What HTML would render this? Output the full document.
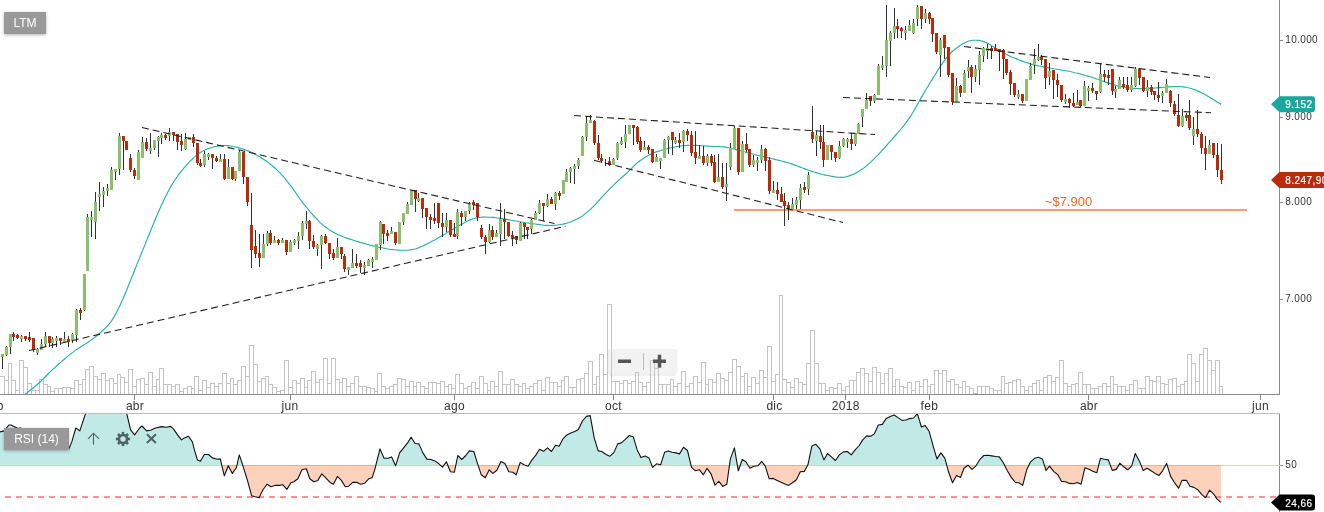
<!DOCTYPE html><html><head><meta charset="utf-8"><title>LTM</title><style>
html,body{margin:0;padding:0;background:#fff;}
body{width:1324px;height:512px;overflow:hidden;position:relative;font-family:"Liberation Sans",sans-serif;}
svg{position:absolute;left:0;top:0;will-change:transform;}
.lbl{position:absolute;background:#999;color:#fff;font-size:12px;text-align:center;box-shadow:0 1px 3px rgba(0,0,0,.3);}
text{font-family:"Liberation Sans",sans-serif;}
</style></head><body>
<svg width="1324" height="512" viewBox="0 0 1324 512">
<defs><clipPath id="cm"><rect x="0" y="0" width="1279" height="394"/></clipPath><clipPath id="cr"><rect x="0" y="414" width="1279" height="98"/></clipPath></defs>
<g fill="#fff" stroke="#c3c3c3" stroke-width="1" shape-rendering="crispEdges">
<rect x="-0.5" y="376.5" width="5" height="18"/>
<rect x="4.5" y="380.5" width="4" height="14"/>
<rect x="8.5" y="363.5" width="3" height="31"/>
<rect x="11.5" y="380.5" width="4" height="14"/>
<rect x="15.5" y="390.5" width="4" height="4"/>
<rect x="19.5" y="360.5" width="4" height="34"/>
<rect x="23.5" y="367.5" width="4" height="27"/>
<rect x="27.5" y="383.5" width="4" height="11"/>
<rect x="31.5" y="390.5" width="4" height="4"/>
<rect x="35.5" y="390.5" width="4" height="4"/>
<rect x="39.5" y="379.5" width="4" height="15"/>
<rect x="43.5" y="384.5" width="4" height="10"/>
<rect x="47.5" y="386.5" width="3" height="8"/>
<rect x="50.5" y="391.5" width="4" height="3"/>
<rect x="54.5" y="388.5" width="4" height="6"/>
<rect x="58.5" y="388.5" width="4" height="6"/>
<rect x="62.5" y="387.5" width="4" height="7"/>
<rect x="66.5" y="387.5" width="4" height="7"/>
<rect x="70.5" y="388.5" width="4" height="6"/>
<rect x="74.5" y="380.5" width="4" height="14"/>
<rect x="78.5" y="384.5" width="4" height="10"/>
<rect x="82.5" y="379.5" width="3" height="15"/>
<rect x="85.5" y="369.5" width="4" height="25"/>
<rect x="89.5" y="366.5" width="4" height="28"/>
<rect x="93.5" y="376.5" width="4" height="18"/>
<rect x="97.5" y="379.5" width="4" height="15"/>
<rect x="101.5" y="373.5" width="4" height="21"/>
<rect x="105.5" y="380.5" width="4" height="14"/>
<rect x="109.5" y="378.5" width="4" height="16"/>
<rect x="113.5" y="383.5" width="4" height="11"/>
<rect x="117.5" y="374.5" width="3" height="20"/>
<rect x="120.5" y="377.5" width="4" height="17"/>
<rect x="124.5" y="382.5" width="4" height="12"/>
<rect x="128.5" y="369.5" width="4" height="25"/>
<rect x="132.5" y="386.5" width="4" height="8"/>
<rect x="136.5" y="379.5" width="4" height="15"/>
<rect x="140.5" y="378.5" width="4" height="16"/>
<rect x="144.5" y="384.5" width="4" height="10"/>
<rect x="148.5" y="372.5" width="4" height="22"/>
<rect x="152.5" y="386.5" width="4" height="8"/>
<rect x="156.5" y="379.5" width="3" height="15"/>
<rect x="159.5" y="368.5" width="4" height="26"/>
<rect x="163.5" y="384.5" width="4" height="10"/>
<rect x="167.5" y="384.5" width="4" height="10"/>
<rect x="171.5" y="386.5" width="4" height="8"/>
<rect x="175.5" y="384.5" width="4" height="10"/>
<rect x="179.5" y="391.5" width="4" height="3"/>
<rect x="183.5" y="388.5" width="4" height="6"/>
<rect x="187.5" y="386.5" width="4" height="8"/>
<rect x="191.5" y="388.5" width="3" height="6"/>
<rect x="194.5" y="376.5" width="4" height="18"/>
<rect x="198.5" y="390.5" width="4" height="4"/>
<rect x="202.5" y="380.5" width="4" height="14"/>
<rect x="206.5" y="387.5" width="4" height="7"/>
<rect x="210.5" y="383.5" width="4" height="11"/>
<rect x="214.5" y="386.5" width="4" height="8"/>
<rect x="218.5" y="383.5" width="4" height="11"/>
<rect x="222.5" y="373.5" width="4" height="21"/>
<rect x="226.5" y="383.5" width="4" height="11"/>
<rect x="230.5" y="378.5" width="3" height="16"/>
<rect x="233.5" y="384.5" width="4" height="10"/>
<rect x="237.5" y="380.5" width="4" height="14"/>
<rect x="241.5" y="366.5" width="4" height="28"/>
<rect x="245.5" y="376.5" width="4" height="18"/>
<rect x="249.5" y="345.5" width="4" height="49"/>
<rect x="253.5" y="364.5" width="4" height="30"/>
<rect x="257.5" y="381.5" width="4" height="13"/>
<rect x="261.5" y="378.5" width="4" height="16"/>
<rect x="265.5" y="376.5" width="3" height="18"/>
<rect x="268.5" y="384.5" width="4" height="10"/>
<rect x="272.5" y="387.5" width="4" height="7"/>
<rect x="276.5" y="391.5" width="4" height="3"/>
<rect x="280.5" y="390.5" width="4" height="4"/>
<rect x="284.5" y="360.5" width="4" height="34"/>
<rect x="288.5" y="387.5" width="4" height="7"/>
<rect x="292.5" y="380.5" width="4" height="14"/>
<rect x="296.5" y="383.5" width="4" height="11"/>
<rect x="300.5" y="378.5" width="4" height="16"/>
<rect x="304.5" y="387.5" width="3" height="7"/>
<rect x="307.5" y="380.5" width="4" height="14"/>
<rect x="311.5" y="371.5" width="4" height="23"/>
<rect x="315.5" y="382.5" width="4" height="12"/>
<rect x="319.5" y="379.5" width="4" height="15"/>
<rect x="323.5" y="358.5" width="4" height="36"/>
<rect x="327.5" y="383.5" width="4" height="11"/>
<rect x="331.5" y="358.5" width="4" height="36"/>
<rect x="335.5" y="379.5" width="4" height="15"/>
<rect x="339.5" y="382.5" width="3" height="12"/>
<rect x="342.5" y="378.5" width="4" height="16"/>
<rect x="346.5" y="386.5" width="4" height="8"/>
<rect x="350.5" y="383.5" width="4" height="11"/>
<rect x="354.5" y="376.5" width="4" height="18"/>
<rect x="358.5" y="386.5" width="4" height="8"/>
<rect x="362.5" y="386.5" width="4" height="8"/>
<rect x="366.5" y="387.5" width="4" height="7"/>
<rect x="370.5" y="388.5" width="4" height="6"/>
<rect x="374.5" y="391.5" width="3" height="3"/>
<rect x="377.5" y="373.5" width="4" height="21"/>
<rect x="381.5" y="386.5" width="4" height="8"/>
<rect x="385.5" y="388.5" width="4" height="6"/>
<rect x="389.5" y="386.5" width="4" height="8"/>
<rect x="393.5" y="384.5" width="4" height="10"/>
<rect x="397.5" y="378.5" width="4" height="16"/>
<rect x="401.5" y="379.5" width="4" height="15"/>
<rect x="405.5" y="386.5" width="4" height="8"/>
<rect x="409.5" y="381.5" width="4" height="13"/>
<rect x="413.5" y="386.5" width="3" height="8"/>
<rect x="416.5" y="382.5" width="4" height="12"/>
<rect x="420.5" y="386.5" width="4" height="8"/>
<rect x="424.5" y="388.5" width="4" height="6"/>
<rect x="428.5" y="382.5" width="4" height="12"/>
<rect x="432.5" y="382.5" width="4" height="12"/>
<rect x="436.5" y="383.5" width="4" height="11"/>
<rect x="440.5" y="381.5" width="4" height="13"/>
<rect x="444.5" y="386.5" width="4" height="8"/>
<rect x="448.5" y="384.5" width="3" height="10"/>
<rect x="451.5" y="388.5" width="4" height="6"/>
<rect x="455.5" y="374.5" width="4" height="20"/>
<rect x="459.5" y="383.5" width="4" height="11"/>
<rect x="463.5" y="388.5" width="4" height="6"/>
<rect x="467.5" y="386.5" width="4" height="8"/>
<rect x="471.5" y="382.5" width="4" height="12"/>
<rect x="475.5" y="388.5" width="4" height="6"/>
<rect x="479.5" y="376.5" width="4" height="18"/>
<rect x="483.5" y="383.5" width="4" height="11"/>
<rect x="487.5" y="390.5" width="3" height="4"/>
<rect x="490.5" y="381.5" width="4" height="13"/>
<rect x="494.5" y="386.5" width="4" height="8"/>
<rect x="498.5" y="371.5" width="4" height="23"/>
<rect x="502.5" y="384.5" width="4" height="10"/>
<rect x="506.5" y="384.5" width="4" height="10"/>
<rect x="510.5" y="379.5" width="4" height="15"/>
<rect x="514.5" y="384.5" width="4" height="10"/>
<rect x="518.5" y="386.5" width="4" height="8"/>
<rect x="522.5" y="383.5" width="3" height="11"/>
<rect x="525.5" y="388.5" width="4" height="6"/>
<rect x="529.5" y="386.5" width="4" height="8"/>
<rect x="533.5" y="383.5" width="4" height="11"/>
<rect x="537.5" y="380.5" width="4" height="14"/>
<rect x="541.5" y="390.5" width="4" height="4"/>
<rect x="545.5" y="377.5" width="4" height="17"/>
<rect x="549.5" y="382.5" width="4" height="12"/>
<rect x="553.5" y="382.5" width="4" height="12"/>
<rect x="557.5" y="386.5" width="4" height="8"/>
<rect x="561.5" y="380.5" width="3" height="14"/>
<rect x="564.5" y="376.5" width="4" height="18"/>
<rect x="568.5" y="387.5" width="4" height="7"/>
<rect x="572.5" y="387.5" width="4" height="7"/>
<rect x="576.5" y="379.5" width="4" height="15"/>
<rect x="580.5" y="378.5" width="4" height="16"/>
<rect x="584.5" y="373.5" width="4" height="21"/>
<rect x="588.5" y="361.5" width="4" height="33"/>
<rect x="592.5" y="384.5" width="4" height="10"/>
<rect x="596.5" y="376.5" width="3" height="18"/>
<rect x="599.5" y="354.5" width="4" height="40"/>
<rect x="603.5" y="374.5" width="4" height="20"/>
<rect x="607.5" y="304.5" width="4" height="90"/>
<rect x="611.5" y="381.5" width="4" height="13"/>
<rect x="615.5" y="381.5" width="4" height="13"/>
<rect x="619.5" y="383.5" width="4" height="11"/>
<rect x="623.5" y="380.5" width="4" height="14"/>
<rect x="627.5" y="383.5" width="4" height="11"/>
<rect x="631.5" y="381.5" width="4" height="13"/>
<rect x="635.5" y="372.5" width="3" height="22"/>
<rect x="638.5" y="382.5" width="4" height="12"/>
<rect x="642.5" y="386.5" width="4" height="8"/>
<rect x="646.5" y="382.5" width="4" height="12"/>
<rect x="650.5" y="360.5" width="4" height="34"/>
<rect x="654.5" y="368.5" width="4" height="26"/>
<rect x="658.5" y="384.5" width="4" height="10"/>
<rect x="662.5" y="384.5" width="4" height="10"/>
<rect x="666.5" y="384.5" width="4" height="10"/>
<rect x="670.5" y="379.5" width="3" height="15"/>
<rect x="673.5" y="386.5" width="4" height="8"/>
<rect x="677.5" y="383.5" width="4" height="11"/>
<rect x="681.5" y="371.5" width="4" height="23"/>
<rect x="685.5" y="386.5" width="4" height="8"/>
<rect x="689.5" y="383.5" width="4" height="11"/>
<rect x="693.5" y="376.5" width="4" height="18"/>
<rect x="697.5" y="382.5" width="4" height="12"/>
<rect x="701.5" y="362.5" width="4" height="32"/>
<rect x="705.5" y="384.5" width="3" height="10"/>
<rect x="708.5" y="379.5" width="4" height="15"/>
<rect x="712.5" y="382.5" width="4" height="12"/>
<rect x="716.5" y="373.5" width="4" height="21"/>
<rect x="720.5" y="378.5" width="4" height="16"/>
<rect x="724.5" y="380.5" width="4" height="14"/>
<rect x="728.5" y="372.5" width="4" height="22"/>
<rect x="732.5" y="359.5" width="4" height="35"/>
<rect x="736.5" y="366.5" width="4" height="28"/>
<rect x="740.5" y="376.5" width="4" height="18"/>
<rect x="744.5" y="373.5" width="3" height="21"/>
<rect x="747.5" y="386.5" width="4" height="8"/>
<rect x="751.5" y="377.5" width="4" height="17"/>
<rect x="755.5" y="383.5" width="4" height="11"/>
<rect x="759.5" y="370.5" width="4" height="24"/>
<rect x="763.5" y="377.5" width="4" height="17"/>
<rect x="767.5" y="346.5" width="4" height="48"/>
<rect x="771.5" y="381.5" width="4" height="13"/>
<rect x="775.5" y="374.5" width="4" height="20"/>
<rect x="779.5" y="295.5" width="3" height="99"/>
<rect x="782.5" y="379.5" width="4" height="15"/>
<rect x="786.5" y="382.5" width="4" height="12"/>
<rect x="790.5" y="387.5" width="4" height="7"/>
<rect x="794.5" y="378.5" width="4" height="16"/>
<rect x="798.5" y="382.5" width="4" height="12"/>
<rect x="802.5" y="384.5" width="4" height="10"/>
<rect x="806.5" y="363.5" width="4" height="31"/>
<rect x="810.5" y="330.5" width="4" height="64"/>
<rect x="814.5" y="363.5" width="4" height="31"/>
<rect x="818.5" y="383.5" width="3" height="11"/>
<rect x="821.5" y="383.5" width="4" height="11"/>
<rect x="825.5" y="390.5" width="4" height="4"/>
<rect x="829.5" y="387.5" width="4" height="7"/>
<rect x="833.5" y="388.5" width="4" height="6"/>
<rect x="837.5" y="383.5" width="4" height="11"/>
<rect x="841.5" y="390.5" width="4" height="4"/>
<rect x="845.5" y="386.5" width="4" height="8"/>
<rect x="849.5" y="380.5" width="4" height="14"/>
<rect x="853.5" y="380.5" width="3" height="14"/>
<rect x="856.5" y="372.5" width="4" height="22"/>
<rect x="860.5" y="368.5" width="4" height="26"/>
<rect x="864.5" y="373.5" width="4" height="21"/>
<rect x="868.5" y="381.5" width="4" height="13"/>
<rect x="872.5" y="367.5" width="4" height="27"/>
<rect x="876.5" y="372.5" width="4" height="22"/>
<rect x="880.5" y="383.5" width="4" height="11"/>
<rect x="884.5" y="373.5" width="4" height="21"/>
<rect x="888.5" y="368.5" width="4" height="26"/>
<rect x="892.5" y="386.5" width="3" height="8"/>
<rect x="895.5" y="379.5" width="4" height="15"/>
<rect x="899.5" y="386.5" width="4" height="8"/>
<rect x="903.5" y="387.5" width="4" height="7"/>
<rect x="907.5" y="382.5" width="4" height="12"/>
<rect x="911.5" y="390.5" width="4" height="4"/>
<rect x="915.5" y="381.5" width="4" height="13"/>
<rect x="919.5" y="386.5" width="4" height="8"/>
<rect x="923.5" y="379.5" width="4" height="15"/>
<rect x="927.5" y="386.5" width="3" height="8"/>
<rect x="930.5" y="384.5" width="4" height="10"/>
<rect x="934.5" y="370.5" width="4" height="24"/>
<rect x="938.5" y="373.5" width="4" height="21"/>
<rect x="942.5" y="370.5" width="4" height="24"/>
<rect x="946.5" y="381.5" width="4" height="13"/>
<rect x="950.5" y="379.5" width="4" height="15"/>
<rect x="954.5" y="384.5" width="4" height="10"/>
<rect x="958.5" y="387.5" width="4" height="7"/>
<rect x="962.5" y="381.5" width="3" height="13"/>
<rect x="965.5" y="386.5" width="4" height="8"/>
<rect x="969.5" y="388.5" width="4" height="6"/>
<rect x="973.5" y="393.5" width="4" height="1"/>
<rect x="977.5" y="386.5" width="4" height="8"/>
<rect x="981.5" y="386.5" width="4" height="8"/>
<rect x="985.5" y="386.5" width="4" height="8"/>
<rect x="989.5" y="388.5" width="4" height="6"/>
<rect x="993.5" y="390.5" width="4" height="4"/>
<rect x="997.5" y="390.5" width="4" height="4"/>
<rect x="1001.5" y="376.5" width="3" height="18"/>
<rect x="1004.5" y="383.5" width="4" height="11"/>
<rect x="1008.5" y="382.5" width="4" height="12"/>
<rect x="1012.5" y="380.5" width="4" height="14"/>
<rect x="1016.5" y="379.5" width="4" height="15"/>
<rect x="1020.5" y="386.5" width="4" height="8"/>
<rect x="1024.5" y="390.5" width="4" height="4"/>
<rect x="1028.5" y="386.5" width="4" height="8"/>
<rect x="1032.5" y="383.5" width="4" height="11"/>
<rect x="1036.5" y="380.5" width="3" height="14"/>
<rect x="1039.5" y="390.5" width="4" height="4"/>
<rect x="1043.5" y="377.5" width="4" height="17"/>
<rect x="1047.5" y="375.5" width="4" height="19"/>
<rect x="1051.5" y="381.5" width="4" height="13"/>
<rect x="1055.5" y="377.5" width="4" height="17"/>
<rect x="1059.5" y="360.5" width="4" height="34"/>
<rect x="1063.5" y="383.5" width="4" height="11"/>
<rect x="1067.5" y="386.5" width="4" height="8"/>
<rect x="1071.5" y="384.5" width="4" height="10"/>
<rect x="1075.5" y="383.5" width="3" height="11"/>
<rect x="1078.5" y="372.5" width="4" height="22"/>
<rect x="1082.5" y="384.5" width="4" height="10"/>
<rect x="1086.5" y="384.5" width="4" height="10"/>
<rect x="1090.5" y="388.5" width="4" height="6"/>
<rect x="1094.5" y="388.5" width="4" height="6"/>
<rect x="1098.5" y="386.5" width="4" height="8"/>
<rect x="1102.5" y="383.5" width="4" height="11"/>
<rect x="1106.5" y="386.5" width="4" height="8"/>
<rect x="1110.5" y="376.5" width="3" height="18"/>
<rect x="1113.5" y="384.5" width="4" height="10"/>
<rect x="1117.5" y="386.5" width="4" height="8"/>
<rect x="1121.5" y="386.5" width="4" height="8"/>
<rect x="1125.5" y="390.5" width="4" height="4"/>
<rect x="1129.5" y="384.5" width="4" height="10"/>
<rect x="1133.5" y="380.5" width="4" height="14"/>
<rect x="1137.5" y="388.5" width="4" height="6"/>
<rect x="1141.5" y="388.5" width="4" height="6"/>
<rect x="1145.5" y="376.5" width="4" height="18"/>
<rect x="1149.5" y="380.5" width="3" height="14"/>
<rect x="1152.5" y="381.5" width="4" height="13"/>
<rect x="1156.5" y="376.5" width="4" height="18"/>
<rect x="1160.5" y="383.5" width="4" height="11"/>
<rect x="1164.5" y="384.5" width="4" height="10"/>
<rect x="1168.5" y="379.5" width="4" height="15"/>
<rect x="1172.5" y="378.5" width="4" height="16"/>
<rect x="1176.5" y="386.5" width="4" height="8"/>
<rect x="1180.5" y="384.5" width="4" height="10"/>
<rect x="1184.5" y="381.5" width="3" height="13"/>
<rect x="1187.5" y="354.5" width="4" height="40"/>
<rect x="1191.5" y="363.5" width="4" height="31"/>
<rect x="1195.5" y="381.5" width="4" height="13"/>
<rect x="1199.5" y="354.5" width="4" height="40"/>
<rect x="1203.5" y="348.5" width="4" height="46"/>
<rect x="1207.5" y="360.5" width="4" height="34"/>
<rect x="1211.5" y="370.5" width="4" height="24"/>
<rect x="1215.5" y="360.5" width="4" height="34"/>
<rect x="1219.5" y="386.5" width="3" height="8"/>
</g>
<g shape-rendering="crispEdges" stroke="#8a8a8a" stroke-width="1">
<line x1="0" y1="394.5" x2="1280" y2="394.5"/>
<line x1="1279.5" y1="0" x2="1279.5" y2="395"/>
<line x1="1279.5" y1="413" x2="1279.5" y2="512"/>
<line x1="1280" y1="40.5" x2="1283" y2="40.5"/>
<line x1="1280" y1="117.5" x2="1283" y2="117.5"/>
<line x1="1280" y1="202.5" x2="1283" y2="202.5"/>
<line x1="1280" y1="299.5" x2="1283" y2="299.5"/>
<line x1="1280" y1="465.5" x2="1283" y2="465.5"/>
<line x1="134.5" y1="395" x2="134.5" y2="400"/>
<line x1="290.5" y1="395" x2="290.5" y2="400"/>
<line x1="454.5" y1="395" x2="454.5" y2="400"/>
<line x1="613.5" y1="395" x2="613.5" y2="400"/>
<line x1="773.5" y1="395" x2="773.5" y2="400"/>
<line x1="845.5" y1="395" x2="845.5" y2="400"/>
<line x1="929.5" y1="395" x2="929.5" y2="400"/>
<line x1="1088.5" y1="395" x2="1088.5" y2="400"/>
<line x1="1260.5" y1="395" x2="1260.5" y2="400"/>
</g>
<line x1="0" y1="413.5" x2="1280" y2="413.5" stroke="#bebebe" stroke-width="1" shape-rendering="crispEdges"/>
<g font-size="10" letter-spacing="0.35" fill="#333">
<text x="1285.3" y="43.3">10.000</text>
<text x="1285.3" y="120.3">9.000</text>
<text x="1285.3" y="205.3">8.000</text>
<text x="1285.3" y="302.3">7.000</text>
<text x="1285.3" y="468.3">50</text>
</g>
<g font-size="12" letter-spacing="0.3" fill="#333" text-anchor="middle">
<text x="-5" y="410">feb</text>
<text x="135" y="410">abr</text>
<text x="290" y="410">jun</text>
<text x="454.5" y="410">ago</text>
<text x="613.5" y="410">oct</text>
<text x="774.5" y="410">dic</text>
<text x="845.8" y="410">2018</text>
<text x="929.4" y="410">feb</text>
<text x="1089" y="410">abr</text>
<text x="1260.5" y="410">jun</text>
</g>
<line x1="734" y1="210" x2="1247" y2="210" stroke="#ff9a6c" stroke-width="2"/>
<text x="1068.5" y="205.6" font-size="13" fill="#ee6424" text-anchor="middle">~$7.900</text>
<path d="M25.0,394.1C25.5,393.7 27.0,392.6 28.0,391.9C29.0,391.1 30.0,390.4 31.0,389.6C32.0,388.9 33.0,388.1 34.0,387.3C35.0,386.5 36.0,385.7 37.0,384.8C38.0,383.9 39.0,383.0 40.0,382.0C41.0,381.1 42.0,380.1 43.0,379.1C44.0,378.1 45.0,377.1 46.0,376.0C47.0,375.0 48.0,374.0 49.0,373.0C50.0,372.1 51.0,371.1 52.0,370.2C53.0,369.2 54.0,368.3 55.0,367.4C56.0,366.5 57.0,365.6 58.0,364.7C59.0,363.8 60.0,362.9 61.0,362.1C62.0,361.2 63.0,360.3 64.0,359.5C65.0,358.6 66.0,357.8 67.0,356.9C68.0,356.1 69.0,355.2 70.0,354.4C71.0,353.6 72.0,352.8 73.0,352.1C74.0,351.3 75.0,350.6 76.0,349.9C77.0,349.2 78.0,348.6 79.0,347.9C80.0,347.3 81.0,346.7 82.0,346.1C83.0,345.4 84.0,344.8 85.0,344.2C86.0,343.5 87.0,342.9 88.0,342.2C89.0,341.5 90.0,340.8 91.0,340.1C92.0,339.4 93.0,338.6 94.0,337.9C95.0,337.1 96.0,336.3 97.0,335.5C98.0,334.7 99.0,333.8 100.0,333.0C101.0,332.1 102.0,331.2 103.0,330.3C104.0,329.4 105.0,328.5 106.0,327.4C107.0,326.4 108.0,325.4 109.0,324.2C110.0,323.0 111.0,321.7 112.0,320.2C113.0,318.8 114.0,317.1 115.0,315.4C116.0,313.6 117.0,311.7 118.0,309.6C119.0,307.6 120.0,305.4 121.0,303.2C122.0,301.0 123.0,298.7 124.0,296.4C125.0,294.0 126.0,291.6 127.0,289.2C128.0,286.8 129.0,284.3 130.0,281.8C131.0,279.3 132.0,276.8 133.0,274.3C134.0,271.8 135.0,269.3 136.0,266.8C137.0,264.3 138.0,261.8 139.0,259.4C140.0,256.9 141.0,254.4 142.0,252.0C143.0,249.5 144.0,247.0 145.0,244.6C146.0,242.1 147.0,239.7 148.0,237.2C149.0,234.7 150.0,232.3 151.0,229.8C152.0,227.4 153.0,224.9 154.0,222.5C155.0,220.0 156.0,217.6 157.0,215.3C158.0,212.9 159.0,210.7 160.0,208.4C161.0,206.2 162.0,204.0 163.0,201.9C164.0,199.8 165.0,197.8 166.0,195.8C167.0,193.8 168.0,191.8 169.0,190.0C170.0,188.1 171.0,186.3 172.0,184.6C173.0,182.9 174.0,181.3 175.0,179.8C176.0,178.3 177.0,176.9 178.0,175.5C179.0,174.1 180.0,172.9 181.0,171.6C182.0,170.4 183.0,169.2 184.0,168.0C185.0,166.8 186.0,165.7 187.0,164.6C188.0,163.5 189.0,162.4 190.0,161.4C191.0,160.4 192.0,159.4 193.0,158.4C194.0,157.4 195.0,156.5 196.0,155.6C197.0,154.8 198.0,153.9 199.0,153.2C200.0,152.5 201.0,152.0 202.0,151.4C203.0,150.9 204.0,150.4 205.0,150.0C206.0,149.5 207.0,149.1 208.0,148.7C209.0,148.3 210.0,148.0 211.0,147.7C212.0,147.4 213.0,147.1 214.0,146.8C215.0,146.6 216.0,146.3 217.0,146.2C218.0,146.0 219.0,145.8 220.0,145.7C221.0,145.6 222.0,145.5 223.0,145.5C224.0,145.5 225.0,145.5 226.0,145.5C227.0,145.6 228.0,145.7 229.0,145.8C230.0,145.9 231.0,146.1 232.0,146.2C233.0,146.4 234.0,146.6 235.0,146.9C236.0,147.1 237.0,147.3 238.0,147.6C239.0,147.9 240.0,148.2 241.0,148.5C242.0,148.8 243.0,149.1 244.0,149.4C245.0,149.8 246.0,150.1 247.0,150.5C248.0,150.9 249.0,151.3 250.0,151.7C251.0,152.1 252.0,152.6 253.0,153.1C254.0,153.6 255.0,154.1 256.0,154.7C257.0,155.2 258.0,155.8 259.0,156.4C260.0,157.0 261.0,157.6 262.0,158.3C263.0,158.9 264.0,159.6 265.0,160.3C266.0,160.9 267.0,161.7 268.0,162.4C269.0,163.1 270.0,163.9 271.0,164.7C272.0,165.5 273.0,166.3 274.0,167.2C275.0,168.0 276.0,168.9 277.0,169.9C278.0,170.9 279.0,171.9 280.0,172.9C281.0,174.0 282.0,175.1 283.0,176.2C284.0,177.4 285.0,178.6 286.0,179.8C287.0,181.0 288.0,182.3 289.0,183.6C290.0,184.8 291.0,186.2 292.0,187.5C293.0,188.9 294.0,190.3 295.0,191.7C296.0,193.2 297.0,194.7 298.0,196.1C299.0,197.5 300.0,199.0 301.0,200.3C302.0,201.7 303.0,203.0 304.0,204.3C305.0,205.6 306.0,206.8 307.0,208.0C308.0,209.2 309.0,210.4 310.0,211.6C311.0,212.7 312.0,213.9 313.0,215.0C314.0,216.1 315.0,217.2 316.0,218.2C317.0,219.3 318.0,220.3 319.0,221.3C320.0,222.3 321.0,223.2 322.0,224.1C323.0,225.0 324.0,225.9 325.0,226.7C326.0,227.4 327.0,228.2 328.0,228.9C329.0,229.6 330.0,230.3 331.0,230.9C332.0,231.5 333.0,232.1 334.0,232.6C335.0,233.2 336.0,233.7 337.0,234.2C338.0,234.7 339.0,235.1 340.0,235.5C341.0,236.0 342.0,236.4 343.0,236.8C344.0,237.1 345.0,237.5 346.0,237.9C347.0,238.2 348.0,238.6 349.0,238.9C350.0,239.2 351.0,239.5 352.0,239.8C353.0,240.1 354.0,240.5 355.0,240.8C356.0,241.1 357.0,241.3 358.0,241.6C359.0,241.9 360.0,242.2 361.0,242.5C362.0,242.8 363.0,243.1 364.0,243.4C365.0,243.6 366.0,243.9 367.0,244.2C368.0,244.4 369.0,244.7 370.0,245.0C371.0,245.2 372.0,245.5 373.0,245.7C374.0,246.0 375.0,246.2 376.0,246.5C377.0,246.7 378.0,247.0 379.0,247.2C380.0,247.4 381.0,247.6 382.0,247.8C383.0,248.1 384.0,248.3 385.0,248.5C386.0,248.7 387.0,248.8 388.0,249.0C389.0,249.2 390.0,249.3 391.0,249.5C392.0,249.6 393.0,249.7 394.0,249.8C395.0,249.9 396.0,250.0 397.0,250.0C398.0,250.1 399.0,250.1 400.0,250.2C401.0,250.2 402.0,250.2 403.0,250.2C404.0,250.2 405.0,250.2 406.0,250.2C407.0,250.2 408.0,250.1 409.0,250.0C410.0,249.9 411.0,249.8 412.0,249.6C413.0,249.5 414.0,249.2 415.0,249.0C416.0,248.7 417.0,248.3 418.0,248.0C419.0,247.6 420.0,247.2 421.0,246.8C422.0,246.4 423.0,245.9 424.0,245.4C425.0,245.0 426.0,244.5 427.0,244.0C428.0,243.5 429.0,242.9 430.0,242.4C431.0,241.9 432.0,241.3 433.0,240.8C434.0,240.3 435.0,239.7 436.0,239.2C437.0,238.6 438.0,238.1 439.0,237.5C440.0,236.9 441.0,236.3 442.0,235.7C443.0,235.1 444.0,234.5 445.0,233.9C446.0,233.3 447.0,232.7 448.0,232.1C449.0,231.5 450.0,230.9 451.0,230.3C452.0,229.7 453.0,229.1 454.0,228.5C455.0,227.9 456.0,227.3 457.0,226.8C458.0,226.2 459.0,225.6 460.0,225.0C461.0,224.5 462.0,223.9 463.0,223.4C464.0,222.8 465.0,222.3 466.0,221.8C467.0,221.2 468.0,220.8 469.0,220.3C470.0,219.9 471.0,219.4 472.0,219.1C473.0,218.7 474.0,218.4 475.0,218.2C476.0,217.9 477.0,217.7 478.0,217.6C479.0,217.4 480.0,217.3 481.0,217.2C482.0,217.2 483.0,217.1 484.0,217.1C485.0,217.0 486.0,217.0 487.0,217.1C488.0,217.1 489.0,217.1 490.0,217.2C491.0,217.2 492.0,217.3 493.0,217.4C494.0,217.5 495.0,217.6 496.0,217.7C497.0,217.9 498.0,218.0 499.0,218.1C500.0,218.3 501.0,218.4 502.0,218.6C503.0,218.8 504.0,218.9 505.0,219.1C506.0,219.3 507.0,219.5 508.0,219.6C509.0,219.8 510.0,220.0 511.0,220.2C512.0,220.4 513.0,220.6 514.0,220.7C515.0,220.9 516.0,221.1 517.0,221.3C518.0,221.5 519.0,221.6 520.0,221.8C521.0,222.0 522.0,222.2 523.0,222.3C524.0,222.5 525.0,222.6 526.0,222.8C527.0,222.9 528.0,223.1 529.0,223.2C530.0,223.3 531.0,223.5 532.0,223.6C533.0,223.7 534.0,223.9 535.0,224.0C536.0,224.1 537.0,224.3 538.0,224.4C539.0,224.5 540.0,224.7 541.0,224.8C542.0,224.9 543.0,225.1 544.0,225.2C545.0,225.3 546.0,225.4 547.0,225.4C548.0,225.5 549.0,225.5 550.0,225.5C551.0,225.5 552.0,225.5 553.0,225.4C554.0,225.4 555.0,225.3 556.0,225.2C557.0,225.1 558.0,225.0 559.0,224.8C560.0,224.7 561.0,224.5 562.0,224.3C563.0,224.2 564.0,223.9 565.0,223.7C566.0,223.4 567.0,223.2 568.0,222.8C569.0,222.5 570.0,222.2 571.0,221.8C572.0,221.4 573.0,221.0 574.0,220.5C575.0,220.1 576.0,219.6 577.0,219.1C578.0,218.5 579.0,218.0 580.0,217.4C581.0,216.7 582.0,216.1 583.0,215.4C584.0,214.6 585.0,213.9 586.0,213.1C587.0,212.3 588.0,211.5 589.0,210.6C590.0,209.7 591.0,208.8 592.0,207.8C593.0,206.9 594.0,205.9 595.0,204.8C596.0,203.8 597.0,202.7 598.0,201.6C599.0,200.5 600.0,199.3 601.0,198.2C602.0,197.1 603.0,196.0 604.0,194.9C605.0,193.8 606.0,192.8 607.0,191.7C608.0,190.7 609.0,189.6 610.0,188.6C611.0,187.6 612.0,186.6 613.0,185.6C614.0,184.7 615.0,183.7 616.0,182.7C617.0,181.8 618.0,180.9 619.0,179.9C620.0,179.0 621.0,178.2 622.0,177.3C623.0,176.4 624.0,175.5 625.0,174.6C626.0,173.7 627.0,172.8 628.0,171.9C629.0,170.9 630.0,169.9 631.0,168.9C632.0,167.9 633.0,166.9 634.0,165.9C635.0,165.0 636.0,164.0 637.0,163.1C638.0,162.3 639.0,161.5 640.0,160.7C641.0,160.0 642.0,159.3 643.0,158.6C644.0,157.9 645.0,157.3 646.0,156.7C647.0,156.1 648.0,155.5 649.0,155.0C650.0,154.5 651.0,154.0 652.0,153.6C653.0,153.2 654.0,152.8 655.0,152.4C656.0,152.0 657.0,151.7 658.0,151.4C659.0,151.1 660.0,150.8 661.0,150.5C662.0,150.2 663.0,149.9 664.0,149.6C665.0,149.3 666.0,149.0 667.0,148.8C668.0,148.5 669.0,148.3 670.0,148.0C671.0,147.8 672.0,147.6 673.0,147.3C674.0,147.1 675.0,146.9 676.0,146.7C677.0,146.6 678.0,146.4 679.0,146.2C680.0,146.1 681.0,145.9 682.0,145.8C683.0,145.7 684.0,145.6 685.0,145.5C686.0,145.4 687.0,145.3 688.0,145.3C689.0,145.3 690.0,145.2 691.0,145.2C692.0,145.3 693.0,145.3 694.0,145.3C695.0,145.3 696.0,145.4 697.0,145.4C698.0,145.5 699.0,145.5 700.0,145.6C701.0,145.7 702.0,145.7 703.0,145.8C704.0,145.9 705.0,145.9 706.0,146.0C707.0,146.1 708.0,146.1 709.0,146.2C710.0,146.3 711.0,146.3 712.0,146.4C713.0,146.5 714.0,146.5 715.0,146.5C716.0,146.6 717.0,146.6 718.0,146.6C719.0,146.7 720.0,146.7 721.0,146.7C722.0,146.8 723.0,146.8 724.0,146.9C725.0,147.0 726.0,147.2 727.0,147.4C728.0,147.5 729.0,147.8 730.0,148.0C731.0,148.2 732.0,148.5 733.0,148.8C734.0,149.0 735.0,149.3 736.0,149.6C737.0,149.9 738.0,150.1 739.0,150.4C740.0,150.6 741.0,150.9 742.0,151.2C743.0,151.4 744.0,151.7 745.0,152.0C746.0,152.2 747.0,152.5 748.0,152.7C749.0,153.0 750.0,153.3 751.0,153.5C752.0,153.8 753.0,154.1 754.0,154.3C755.0,154.6 756.0,154.8 757.0,155.1C758.0,155.4 759.0,155.6 760.0,155.9C761.0,156.1 762.0,156.4 763.0,156.6C764.0,156.9 765.0,157.1 766.0,157.3C767.0,157.6 768.0,157.8 769.0,158.0C770.0,158.3 771.0,158.5 772.0,158.7C773.0,159.0 774.0,159.2 775.0,159.4C776.0,159.6 777.0,159.9 778.0,160.1C779.0,160.3 780.0,160.6 781.0,160.8C782.0,161.1 783.0,161.3 784.0,161.6C785.0,161.9 786.0,162.1 787.0,162.4C788.0,162.7 789.0,163.0 790.0,163.3C791.0,163.7 792.0,164.0 793.0,164.4C794.0,164.7 795.0,165.1 796.0,165.5C797.0,165.9 798.0,166.2 799.0,166.6C800.0,167.0 801.0,167.4 802.0,167.8C803.0,168.1 804.0,168.5 805.0,168.9C806.0,169.3 807.0,169.6 808.0,170.0C809.0,170.4 810.0,170.7 811.0,171.1C812.0,171.4 813.0,171.7 814.0,172.0C815.0,172.3 816.0,172.6 817.0,172.9C818.0,173.2 819.0,173.5 820.0,173.7C821.0,174.0 822.0,174.3 823.0,174.5C824.0,174.7 825.0,175.0 826.0,175.2C827.0,175.4 828.0,175.6 829.0,175.8C830.0,176.0 831.0,176.2 832.0,176.4C833.0,176.6 834.0,176.7 835.0,176.9C836.0,177.0 837.0,177.2 838.0,177.3C839.0,177.4 840.0,177.4 841.0,177.4C842.0,177.4 843.0,177.3 844.0,177.2C845.0,177.0 846.0,176.8 847.0,176.5C848.0,176.3 849.0,176.0 850.0,175.6C851.0,175.3 852.0,174.8 853.0,174.4C854.0,173.9 855.0,173.4 856.0,172.9C857.0,172.4 858.0,171.8 859.0,171.2C860.0,170.6 861.0,170.0 862.0,169.3C863.0,168.6 864.0,167.9 865.0,167.1C866.0,166.3 867.0,165.5 868.0,164.6C869.0,163.7 870.0,162.8 871.0,161.9C872.0,160.9 873.0,159.9 874.0,158.9C875.0,157.9 876.0,156.9 877.0,155.9C878.0,154.8 879.0,153.8 880.0,152.7C881.0,151.6 882.0,150.6 883.0,149.5C884.0,148.4 885.0,147.2 886.0,146.1C887.0,145.0 888.0,143.9 889.0,142.7C890.0,141.6 891.0,140.5 892.0,139.4C893.0,138.2 894.0,137.1 895.0,136.0C896.0,134.8 897.0,133.7 898.0,132.5C899.0,131.4 900.0,130.2 901.0,129.0C902.0,127.8 903.0,126.6 904.0,125.3C905.0,124.0 906.0,122.8 907.0,121.4C908.0,120.0 909.0,118.6 910.0,117.1C911.0,115.6 912.0,114.0 913.0,112.3C914.0,110.6 915.0,108.8 916.0,107.0C917.0,105.3 918.0,103.4 919.0,101.7C920.0,99.9 921.0,98.1 922.0,96.4C923.0,94.7 924.0,93.0 925.0,91.3C926.0,89.6 927.0,87.9 928.0,86.3C929.0,84.6 930.0,83.0 931.0,81.3C932.0,79.7 933.0,78.0 934.0,76.4C935.0,74.8 936.0,73.2 937.0,71.6C938.0,70.0 939.0,68.5 940.0,66.9C941.0,65.4 942.0,63.9 943.0,62.4C944.0,61.0 945.0,59.6 946.0,58.3C947.0,57.0 948.0,55.8 949.0,54.7C950.0,53.6 951.0,52.6 952.0,51.7C953.0,50.8 954.0,50.0 955.0,49.2C956.0,48.4 957.0,47.7 958.0,47.0C959.0,46.3 960.0,45.6 961.0,45.0C962.0,44.3 963.0,43.7 964.0,43.2C965.0,42.7 966.0,42.2 967.0,41.8C968.0,41.4 969.0,41.1 970.0,40.8C971.0,40.6 972.0,40.4 973.0,40.3C974.0,40.2 975.0,40.2 976.0,40.2C977.0,40.2 978.0,40.3 979.0,40.4C980.0,40.6 981.0,40.8 982.0,41.1C983.0,41.4 984.0,41.7 985.0,42.1C986.0,42.5 987.0,43.0 988.0,43.6C989.0,44.1 990.0,44.7 991.0,45.3C992.0,45.9 993.0,46.6 994.0,47.2C995.0,47.8 996.0,48.4 997.0,49.0C998.0,49.6 999.0,50.2 1000.0,50.8C1001.0,51.4 1002.0,52.0 1003.0,52.5C1004.0,53.1 1005.0,53.6 1006.0,54.2C1007.0,54.7 1008.0,55.2 1009.0,55.7C1010.0,56.2 1011.0,56.6 1012.0,57.1C1013.0,57.5 1014.0,57.9 1015.0,58.3C1016.0,58.7 1017.0,59.1 1018.0,59.5C1019.0,59.9 1020.0,60.3 1021.0,60.6C1022.0,61.0 1023.0,61.4 1024.0,61.7C1025.0,62.1 1026.0,62.5 1027.0,62.8C1028.0,63.1 1029.0,63.5 1030.0,63.8C1031.0,64.1 1032.0,64.4 1033.0,64.7C1034.0,64.9 1035.0,65.2 1036.0,65.4C1037.0,65.6 1038.0,65.8 1039.0,66.0C1040.0,66.2 1041.0,66.4 1042.0,66.6C1043.0,66.7 1044.0,66.9 1045.0,67.1C1046.0,67.3 1047.0,67.5 1048.0,67.6C1049.0,67.8 1050.0,68.0 1051.0,68.2C1052.0,68.3 1053.0,68.5 1054.0,68.7C1055.0,68.8 1056.0,69.0 1057.0,69.2C1058.0,69.3 1059.0,69.5 1060.0,69.7C1061.0,69.9 1062.0,70.0 1063.0,70.2C1064.0,70.4 1065.0,70.6 1066.0,70.7C1067.0,70.9 1068.0,71.1 1069.0,71.3C1070.0,71.5 1071.0,71.7 1072.0,72.0C1073.0,72.2 1074.0,72.4 1075.0,72.7C1076.0,72.9 1077.0,73.1 1078.0,73.4C1079.0,73.7 1080.0,73.9 1081.0,74.2C1082.0,74.5 1083.0,74.8 1084.0,75.0C1085.0,75.3 1086.0,75.6 1087.0,75.9C1088.0,76.2 1089.0,76.5 1090.0,76.8C1091.0,77.1 1092.0,77.4 1093.0,77.8C1094.0,78.1 1095.0,78.4 1096.0,78.8C1097.0,79.1 1098.0,79.4 1099.0,79.8C1100.0,80.1 1101.0,80.5 1102.0,80.8C1103.0,81.2 1104.0,81.5 1105.0,81.9C1106.0,82.2 1107.0,82.6 1108.0,82.9C1109.0,83.2 1110.0,83.6 1111.0,83.9C1112.0,84.2 1113.0,84.5 1114.0,84.8C1115.0,85.1 1116.0,85.4 1117.0,85.7C1118.0,86.0 1119.0,86.2 1120.0,86.4C1121.0,86.7 1122.0,86.9 1123.0,87.0C1124.0,87.2 1125.0,87.4 1126.0,87.5C1127.0,87.7 1128.0,87.8 1129.0,87.9C1130.0,88.0 1131.0,88.1 1132.0,88.2C1133.0,88.3 1134.0,88.4 1135.0,88.4C1136.0,88.5 1137.0,88.5 1138.0,88.6C1139.0,88.6 1140.0,88.6 1141.0,88.6C1142.0,88.6 1143.0,88.6 1144.0,88.6C1145.0,88.6 1146.0,88.5 1147.0,88.5C1148.0,88.4 1149.0,88.4 1150.0,88.3C1151.0,88.3 1152.0,88.2 1153.0,88.1C1154.0,88.0 1155.0,87.9 1156.0,87.9C1157.0,87.8 1158.0,87.7 1159.0,87.6C1160.0,87.6 1161.0,87.5 1162.0,87.4C1163.0,87.3 1164.0,87.3 1165.0,87.2C1166.0,87.1 1167.0,87.0 1168.0,86.9C1169.0,86.9 1170.0,86.8 1171.0,86.7C1172.0,86.6 1173.0,86.6 1174.0,86.5C1175.0,86.5 1176.0,86.5 1177.0,86.5C1178.0,86.5 1179.0,86.6 1180.0,86.6C1181.0,86.7 1182.0,86.8 1183.0,86.9C1184.0,87.0 1185.0,87.1 1186.0,87.3C1187.0,87.5 1188.0,87.7 1189.0,88.0C1190.0,88.2 1191.0,88.5 1192.0,88.8C1193.0,89.1 1194.0,89.5 1195.0,89.9C1196.0,90.2 1197.0,90.7 1198.0,91.1C1199.0,91.5 1200.0,92.0 1201.0,92.5C1202.0,93.0 1203.0,93.5 1204.0,94.0C1205.0,94.6 1206.0,95.1 1207.0,95.7C1208.0,96.3 1209.0,96.9 1210.0,97.5C1211.0,98.1 1212.0,98.7 1213.0,99.3C1214.0,99.9 1215.0,100.6 1216.0,101.2C1217.0,101.8 1218.2,102.6 1219.0,103.1C1219.8,103.6 1220.7,104.2 1221.0,104.4" fill="none" stroke="#20b2aa" stroke-width="1.15" clip-path="url(#cm)"/>
<g clip-path="url(#cm)">
<g stroke="#2b3337" stroke-width="1" shape-rendering="crispEdges">
<line x1="2.5" y1="354" x2="2.5" y2="369"/>
<line x1="6.5" y1="346" x2="6.5" y2="356"/>
<line x1="10.5" y1="334" x2="10.5" y2="354"/>
<line x1="13.5" y1="332" x2="13.5" y2="341"/>
<line x1="17.5" y1="334" x2="17.5" y2="339"/>
<line x1="21.5" y1="335" x2="21.5" y2="342"/>
<line x1="25.5" y1="336" x2="25.5" y2="341"/>
<line x1="29.5" y1="332" x2="29.5" y2="342"/>
<line x1="33.5" y1="338" x2="33.5" y2="352"/>
<line x1="37.5" y1="348" x2="37.5" y2="355"/>
<line x1="41.5" y1="339" x2="41.5" y2="350"/>
<line x1="45.5" y1="332" x2="45.5" y2="347"/>
<line x1="49.5" y1="336" x2="49.5" y2="347"/>
<line x1="52.5" y1="337" x2="52.5" y2="348"/>
<line x1="56.5" y1="336" x2="56.5" y2="347"/>
<line x1="60.5" y1="338" x2="60.5" y2="345"/>
<line x1="64.5" y1="332" x2="64.5" y2="343"/>
<line x1="68.5" y1="336" x2="68.5" y2="347"/>
<line x1="72.5" y1="333" x2="72.5" y2="343"/>
<line x1="76.5" y1="309" x2="76.5" y2="342"/>
<line x1="80.5" y1="308" x2="80.5" y2="320"/>
<line x1="84.5" y1="274" x2="84.5" y2="311"/>
<line x1="87.5" y1="214" x2="87.5" y2="271"/>
<line x1="91.5" y1="211" x2="91.5" y2="237"/>
<line x1="95.5" y1="192" x2="95.5" y2="239"/>
<line x1="99.5" y1="182" x2="99.5" y2="211"/>
<line x1="103.5" y1="187" x2="103.5" y2="207"/>
<line x1="107.5" y1="184" x2="107.5" y2="196"/>
<line x1="111.5" y1="167" x2="111.5" y2="190"/>
<line x1="115.5" y1="169" x2="115.5" y2="180"/>
<line x1="119.5" y1="133" x2="119.5" y2="175"/>
<line x1="123.5" y1="136" x2="123.5" y2="170"/>
<line x1="126.5" y1="141" x2="126.5" y2="150"/>
<line x1="130.5" y1="154" x2="130.5" y2="172"/>
<line x1="134.5" y1="168" x2="134.5" y2="179"/>
<line x1="138.5" y1="150" x2="138.5" y2="180"/>
<line x1="142.5" y1="137" x2="142.5" y2="158"/>
<line x1="146.5" y1="138" x2="146.5" y2="151"/>
<line x1="150.5" y1="133" x2="150.5" y2="154"/>
<line x1="154.5" y1="140" x2="154.5" y2="150"/>
<line x1="158.5" y1="136" x2="158.5" y2="157"/>
<line x1="161.5" y1="133" x2="161.5" y2="144"/>
<line x1="165.5" y1="134" x2="165.5" y2="140"/>
<line x1="169.5" y1="128" x2="169.5" y2="141"/>
<line x1="173.5" y1="132" x2="173.5" y2="141"/>
<line x1="177.5" y1="134" x2="177.5" y2="150"/>
<line x1="181.5" y1="134" x2="181.5" y2="151"/>
<line x1="185.5" y1="133" x2="185.5" y2="150"/>
<line x1="189.5" y1="137" x2="189.5" y2="140"/>
<line x1="193.5" y1="134" x2="193.5" y2="147"/>
<line x1="197.5" y1="143" x2="197.5" y2="165"/>
<line x1="200.5" y1="159" x2="200.5" y2="167"/>
<line x1="204.5" y1="151" x2="204.5" y2="167"/>
<line x1="208.5" y1="153" x2="208.5" y2="160"/>
<line x1="212.5" y1="154" x2="212.5" y2="169"/>
<line x1="216.5" y1="156" x2="216.5" y2="162"/>
<line x1="220.5" y1="154" x2="220.5" y2="162"/>
<line x1="224.5" y1="154" x2="224.5" y2="180"/>
<line x1="228.5" y1="159" x2="228.5" y2="179"/>
<line x1="232.5" y1="167" x2="232.5" y2="180"/>
<line x1="235.5" y1="171" x2="235.5" y2="181"/>
<line x1="239.5" y1="150" x2="239.5" y2="171"/>
<line x1="243.5" y1="152" x2="243.5" y2="184"/>
<line x1="247.5" y1="177" x2="247.5" y2="206"/>
<line x1="251.5" y1="193" x2="251.5" y2="268"/>
<line x1="255.5" y1="230" x2="255.5" y2="258"/>
<line x1="259.5" y1="234" x2="259.5" y2="267"/>
<line x1="263.5" y1="234" x2="263.5" y2="258"/>
<line x1="267.5" y1="231" x2="267.5" y2="246"/>
<line x1="270.5" y1="230" x2="270.5" y2="245"/>
<line x1="274.5" y1="236" x2="274.5" y2="243"/>
<line x1="278.5" y1="239" x2="278.5" y2="245"/>
<line x1="282.5" y1="238" x2="282.5" y2="243"/>
<line x1="286.5" y1="240" x2="286.5" y2="255"/>
<line x1="290.5" y1="240" x2="290.5" y2="252"/>
<line x1="294.5" y1="239" x2="294.5" y2="245"/>
<line x1="298.5" y1="232" x2="298.5" y2="249"/>
<line x1="302.5" y1="221" x2="302.5" y2="240"/>
<line x1="306.5" y1="211" x2="306.5" y2="229"/>
<line x1="309.5" y1="220" x2="309.5" y2="249"/>
<line x1="313.5" y1="235" x2="313.5" y2="249"/>
<line x1="317.5" y1="244" x2="317.5" y2="256"/>
<line x1="321.5" y1="235" x2="321.5" y2="269"/>
<line x1="325.5" y1="234" x2="325.5" y2="244"/>
<line x1="329.5" y1="243" x2="329.5" y2="259"/>
<line x1="333.5" y1="249" x2="333.5" y2="260"/>
<line x1="337.5" y1="238" x2="337.5" y2="258"/>
<line x1="341.5" y1="247" x2="341.5" y2="259"/>
<line x1="344.5" y1="254" x2="344.5" y2="272"/>
<line x1="348.5" y1="267" x2="348.5" y2="275"/>
<line x1="352.5" y1="249" x2="352.5" y2="268"/>
<line x1="356.5" y1="254" x2="356.5" y2="268"/>
<line x1="360.5" y1="260" x2="360.5" y2="273"/>
<line x1="364.5" y1="262" x2="364.5" y2="275"/>
<line x1="368.5" y1="259" x2="368.5" y2="266"/>
<line x1="372.5" y1="257" x2="372.5" y2="268"/>
<line x1="376.5" y1="244" x2="376.5" y2="260"/>
<line x1="380.5" y1="221" x2="380.5" y2="250"/>
<line x1="383.5" y1="224" x2="383.5" y2="244"/>
<line x1="387.5" y1="230" x2="387.5" y2="241"/>
<line x1="391.5" y1="227" x2="391.5" y2="234"/>
<line x1="395.5" y1="232" x2="395.5" y2="245"/>
<line x1="399.5" y1="222" x2="399.5" y2="244"/>
<line x1="403.5" y1="213" x2="403.5" y2="225"/>
<line x1="407.5" y1="202" x2="407.5" y2="214"/>
<line x1="411.5" y1="190" x2="411.5" y2="205"/>
<line x1="415.5" y1="190" x2="415.5" y2="212"/>
<line x1="418.5" y1="193" x2="418.5" y2="202"/>
<line x1="422.5" y1="198" x2="422.5" y2="218"/>
<line x1="426.5" y1="208" x2="426.5" y2="229"/>
<line x1="430.5" y1="214" x2="430.5" y2="229"/>
<line x1="434.5" y1="203" x2="434.5" y2="224"/>
<line x1="438.5" y1="203" x2="438.5" y2="228"/>
<line x1="442.5" y1="213" x2="442.5" y2="237"/>
<line x1="446.5" y1="213" x2="446.5" y2="232"/>
<line x1="450.5" y1="220" x2="450.5" y2="237"/>
<line x1="454.5" y1="223" x2="454.5" y2="237"/>
<line x1="457.5" y1="209" x2="457.5" y2="239"/>
<line x1="461.5" y1="211" x2="461.5" y2="226"/>
<line x1="465.5" y1="211" x2="465.5" y2="221"/>
<line x1="469.5" y1="202" x2="469.5" y2="214"/>
<line x1="473.5" y1="200" x2="473.5" y2="210"/>
<line x1="477.5" y1="203" x2="477.5" y2="221"/>
<line x1="481.5" y1="225" x2="481.5" y2="239"/>
<line x1="485.5" y1="235" x2="485.5" y2="254"/>
<line x1="489.5" y1="224" x2="489.5" y2="243"/>
<line x1="492.5" y1="226" x2="492.5" y2="240"/>
<line x1="496.5" y1="230" x2="496.5" y2="237"/>
<line x1="500.5" y1="203" x2="500.5" y2="246"/>
<line x1="504.5" y1="209" x2="504.5" y2="239"/>
<line x1="508.5" y1="222" x2="508.5" y2="237"/>
<line x1="512.5" y1="231" x2="512.5" y2="246"/>
<line x1="516.5" y1="236" x2="516.5" y2="244"/>
<line x1="520.5" y1="222" x2="520.5" y2="241"/>
<line x1="524.5" y1="223" x2="524.5" y2="239"/>
<line x1="527.5" y1="227" x2="527.5" y2="239"/>
<line x1="531.5" y1="219" x2="531.5" y2="234"/>
<line x1="535.5" y1="211" x2="535.5" y2="220"/>
<line x1="539.5" y1="200" x2="539.5" y2="214"/>
<line x1="543.5" y1="203" x2="543.5" y2="221"/>
<line x1="547.5" y1="194" x2="547.5" y2="207"/>
<line x1="551.5" y1="197" x2="551.5" y2="204"/>
<line x1="555.5" y1="192" x2="555.5" y2="210"/>
<line x1="559.5" y1="191" x2="559.5" y2="200"/>
<line x1="563.5" y1="180" x2="563.5" y2="194"/>
<line x1="566.5" y1="169" x2="566.5" y2="182"/>
<line x1="570.5" y1="167" x2="570.5" y2="183"/>
<line x1="574.5" y1="164" x2="574.5" y2="184"/>
<line x1="578.5" y1="158" x2="578.5" y2="169"/>
<line x1="582.5" y1="136" x2="582.5" y2="156"/>
<line x1="586.5" y1="116" x2="586.5" y2="141"/>
<line x1="590.5" y1="115" x2="590.5" y2="123"/>
<line x1="594.5" y1="120" x2="594.5" y2="145"/>
<line x1="598.5" y1="135" x2="598.5" y2="160"/>
<line x1="601.5" y1="154" x2="601.5" y2="163"/>
<line x1="605.5" y1="159" x2="605.5" y2="166"/>
<line x1="609.5" y1="157" x2="609.5" y2="166"/>
<line x1="613.5" y1="158" x2="613.5" y2="165"/>
<line x1="617.5" y1="142" x2="617.5" y2="160"/>
<line x1="621.5" y1="137" x2="621.5" y2="145"/>
<line x1="625.5" y1="125" x2="625.5" y2="148"/>
<line x1="629.5" y1="125" x2="629.5" y2="134"/>
<line x1="633.5" y1="125" x2="633.5" y2="145"/>
<line x1="637.5" y1="126" x2="637.5" y2="144"/>
<line x1="640.5" y1="137" x2="640.5" y2="152"/>
<line x1="644.5" y1="141" x2="644.5" y2="150"/>
<line x1="648.5" y1="145" x2="648.5" y2="154"/>
<line x1="652.5" y1="149" x2="652.5" y2="163"/>
<line x1="656.5" y1="154" x2="656.5" y2="162"/>
<line x1="660.5" y1="158" x2="660.5" y2="169"/>
<line x1="664.5" y1="139" x2="664.5" y2="158"/>
<line x1="668.5" y1="136" x2="668.5" y2="154"/>
<line x1="672.5" y1="132" x2="672.5" y2="155"/>
<line x1="675.5" y1="137" x2="675.5" y2="144"/>
<line x1="679.5" y1="133" x2="679.5" y2="148"/>
<line x1="683.5" y1="130" x2="683.5" y2="152"/>
<line x1="687.5" y1="129" x2="687.5" y2="141"/>
<line x1="691.5" y1="131" x2="691.5" y2="156"/>
<line x1="695.5" y1="131" x2="695.5" y2="164"/>
<line x1="699.5" y1="145" x2="699.5" y2="159"/>
<line x1="703.5" y1="146" x2="703.5" y2="165"/>
<line x1="707.5" y1="154" x2="707.5" y2="166"/>
<line x1="711.5" y1="154" x2="711.5" y2="166"/>
<line x1="714.5" y1="155" x2="714.5" y2="183"/>
<line x1="718.5" y1="154" x2="718.5" y2="182"/>
<line x1="722.5" y1="163" x2="722.5" y2="189"/>
<line x1="726.5" y1="163" x2="726.5" y2="201"/>
<line x1="730.5" y1="143" x2="730.5" y2="170"/>
<line x1="734.5" y1="126" x2="734.5" y2="149"/>
<line x1="738.5" y1="128" x2="738.5" y2="175"/>
<line x1="742.5" y1="141" x2="742.5" y2="172"/>
<line x1="746.5" y1="133" x2="746.5" y2="152"/>
<line x1="749.5" y1="149" x2="749.5" y2="167"/>
<line x1="753.5" y1="155" x2="753.5" y2="167"/>
<line x1="757.5" y1="157" x2="757.5" y2="171"/>
<line x1="761.5" y1="145" x2="761.5" y2="163"/>
<line x1="765.5" y1="148" x2="765.5" y2="171"/>
<line x1="769.5" y1="157" x2="769.5" y2="194"/>
<line x1="773.5" y1="181" x2="773.5" y2="193"/>
<line x1="777.5" y1="182" x2="777.5" y2="200"/>
<line x1="781.5" y1="187" x2="781.5" y2="202"/>
<line x1="784.5" y1="193" x2="784.5" y2="226"/>
<line x1="788.5" y1="202" x2="788.5" y2="220"/>
<line x1="792.5" y1="198" x2="792.5" y2="209"/>
<line x1="796.5" y1="197" x2="796.5" y2="209"/>
<line x1="800.5" y1="184" x2="800.5" y2="209"/>
<line x1="804.5" y1="182" x2="804.5" y2="193"/>
<line x1="808.5" y1="172" x2="808.5" y2="195"/>
<line x1="812.5" y1="106" x2="812.5" y2="143"/>
<line x1="816.5" y1="131" x2="816.5" y2="156"/>
<line x1="820.5" y1="125" x2="820.5" y2="149"/>
<line x1="823.5" y1="125" x2="823.5" y2="167"/>
<line x1="827.5" y1="145" x2="827.5" y2="160"/>
<line x1="831.5" y1="145" x2="831.5" y2="160"/>
<line x1="835.5" y1="152" x2="835.5" y2="162"/>
<line x1="839.5" y1="141" x2="839.5" y2="159"/>
<line x1="843.5" y1="138" x2="843.5" y2="147"/>
<line x1="847.5" y1="138" x2="847.5" y2="148"/>
<line x1="851.5" y1="133" x2="851.5" y2="150"/>
<line x1="855.5" y1="133" x2="855.5" y2="146"/>
<line x1="858.5" y1="123" x2="858.5" y2="134"/>
<line x1="862.5" y1="109" x2="862.5" y2="127"/>
<line x1="866.5" y1="93" x2="866.5" y2="109"/>
<line x1="870.5" y1="96" x2="870.5" y2="106"/>
<line x1="874.5" y1="94" x2="874.5" y2="103"/>
<line x1="878.5" y1="64" x2="878.5" y2="95"/>
<line x1="882.5" y1="56" x2="882.5" y2="70"/>
<line x1="886.5" y1="5" x2="886.5" y2="77"/>
<line x1="890.5" y1="31" x2="890.5" y2="66"/>
<line x1="894.5" y1="8" x2="894.5" y2="39"/>
<line x1="897.5" y1="19" x2="897.5" y2="38"/>
<line x1="901.5" y1="27" x2="901.5" y2="38"/>
<line x1="905.5" y1="26" x2="905.5" y2="40"/>
<line x1="909.5" y1="20" x2="909.5" y2="31"/>
<line x1="913.5" y1="19" x2="913.5" y2="34"/>
<line x1="917.5" y1="5" x2="917.5" y2="26"/>
<line x1="921.5" y1="6" x2="921.5" y2="29"/>
<line x1="925.5" y1="9" x2="925.5" y2="23"/>
<line x1="929.5" y1="12" x2="929.5" y2="24"/>
<line x1="932.5" y1="18" x2="932.5" y2="42"/>
<line x1="936.5" y1="33" x2="936.5" y2="54"/>
<line x1="940.5" y1="38" x2="940.5" y2="77"/>
<line x1="944.5" y1="35" x2="944.5" y2="59"/>
<line x1="948.5" y1="47" x2="948.5" y2="77"/>
<line x1="952.5" y1="73" x2="952.5" y2="105"/>
<line x1="956.5" y1="78" x2="956.5" y2="102"/>
<line x1="960.5" y1="85" x2="960.5" y2="97"/>
<line x1="964.5" y1="70" x2="964.5" y2="93"/>
<line x1="968.5" y1="60" x2="968.5" y2="78"/>
<line x1="971.5" y1="65" x2="971.5" y2="93"/>
<line x1="975.5" y1="65" x2="975.5" y2="82"/>
<line x1="979.5" y1="51" x2="979.5" y2="85"/>
<line x1="983.5" y1="47" x2="983.5" y2="62"/>
<line x1="987.5" y1="44" x2="987.5" y2="59"/>
<line x1="991.5" y1="46" x2="991.5" y2="59"/>
<line x1="995.5" y1="44" x2="995.5" y2="51"/>
<line x1="999.5" y1="49" x2="999.5" y2="71"/>
<line x1="1003.5" y1="49" x2="1003.5" y2="79"/>
<line x1="1006.5" y1="59" x2="1006.5" y2="75"/>
<line x1="1010.5" y1="70" x2="1010.5" y2="95"/>
<line x1="1014.5" y1="83" x2="1014.5" y2="97"/>
<line x1="1018.5" y1="90" x2="1018.5" y2="99"/>
<line x1="1022.5" y1="94" x2="1022.5" y2="103"/>
<line x1="1026.5" y1="79" x2="1026.5" y2="101"/>
<line x1="1030.5" y1="63" x2="1030.5" y2="80"/>
<line x1="1034.5" y1="49" x2="1034.5" y2="74"/>
<line x1="1038.5" y1="44" x2="1038.5" y2="61"/>
<line x1="1041.5" y1="55" x2="1041.5" y2="65"/>
<line x1="1045.5" y1="59" x2="1045.5" y2="89"/>
<line x1="1049.5" y1="63" x2="1049.5" y2="85"/>
<line x1="1053.5" y1="70" x2="1053.5" y2="99"/>
<line x1="1057.5" y1="74" x2="1057.5" y2="97"/>
<line x1="1061.5" y1="85" x2="1061.5" y2="102"/>
<line x1="1065.5" y1="94" x2="1065.5" y2="104"/>
<line x1="1069.5" y1="98" x2="1069.5" y2="108"/>
<line x1="1073.5" y1="93" x2="1073.5" y2="107"/>
<line x1="1077.5" y1="90" x2="1077.5" y2="105"/>
<line x1="1080.5" y1="100" x2="1080.5" y2="107"/>
<line x1="1084.5" y1="81" x2="1084.5" y2="106"/>
<line x1="1088.5" y1="86" x2="1088.5" y2="101"/>
<line x1="1092.5" y1="83" x2="1092.5" y2="93"/>
<line x1="1096.5" y1="91" x2="1096.5" y2="100"/>
<line x1="1100.5" y1="64" x2="1100.5" y2="93"/>
<line x1="1104.5" y1="70" x2="1104.5" y2="82"/>
<line x1="1108.5" y1="70" x2="1108.5" y2="85"/>
<line x1="1112.5" y1="69" x2="1112.5" y2="95"/>
<line x1="1115.5" y1="86" x2="1115.5" y2="98"/>
<line x1="1119.5" y1="77" x2="1119.5" y2="89"/>
<line x1="1123.5" y1="77" x2="1123.5" y2="89"/>
<line x1="1127.5" y1="77" x2="1127.5" y2="92"/>
<line x1="1131.5" y1="77" x2="1131.5" y2="92"/>
<line x1="1135.5" y1="67" x2="1135.5" y2="87"/>
<line x1="1139.5" y1="68" x2="1139.5" y2="85"/>
<line x1="1143.5" y1="77" x2="1143.5" y2="92"/>
<line x1="1147.5" y1="80" x2="1147.5" y2="97"/>
<line x1="1151.5" y1="85" x2="1151.5" y2="95"/>
<line x1="1154.5" y1="91" x2="1154.5" y2="100"/>
<line x1="1158.5" y1="82" x2="1158.5" y2="102"/>
<line x1="1162.5" y1="91" x2="1162.5" y2="103"/>
<line x1="1166.5" y1="79" x2="1166.5" y2="93"/>
<line x1="1170.5" y1="90" x2="1170.5" y2="107"/>
<line x1="1174.5" y1="101" x2="1174.5" y2="116"/>
<line x1="1178.5" y1="94" x2="1178.5" y2="127"/>
<line x1="1182.5" y1="109" x2="1182.5" y2="127"/>
<line x1="1186.5" y1="113" x2="1186.5" y2="121"/>
<line x1="1189.5" y1="100" x2="1189.5" y2="130"/>
<line x1="1193.5" y1="117" x2="1193.5" y2="145"/>
<line x1="1197.5" y1="110" x2="1197.5" y2="137"/>
<line x1="1201.5" y1="132" x2="1201.5" y2="154"/>
<line x1="1205.5" y1="136" x2="1205.5" y2="170"/>
<line x1="1209.5" y1="140" x2="1209.5" y2="154"/>
<line x1="1213.5" y1="143" x2="1213.5" y2="158"/>
<line x1="1217.5" y1="143" x2="1217.5" y2="177"/>
<line x1="1221.5" y1="144" x2="1221.5" y2="184"/>
</g>
<g fill="#8bbf6f" shape-rendering="crispEdges">
<rect x="1" y="354" width="3" height="3"/>
<rect x="5" y="347" width="3" height="8"/>
<rect x="9" y="334" width="3" height="13"/>
<rect x="20" y="336" width="3" height="3"/>
<rect x="36" y="349" width="3" height="4"/>
<rect x="40" y="344" width="3" height="6"/>
<rect x="44" y="336" width="3" height="8"/>
<rect x="51" y="339" width="3" height="4"/>
<rect x="55" y="338" width="3" height="3"/>
<rect x="63" y="339" width="3" height="3"/>
<rect x="71" y="334" width="3" height="7"/>
<rect x="75" y="310" width="3" height="25"/>
<rect x="83" y="274" width="3" height="36"/>
<rect x="86" y="217" width="3" height="54"/>
<rect x="90" y="217" width="3" height="3"/>
<rect x="94" y="202" width="3" height="20"/>
<rect x="98" y="194" width="3" height="3"/>
<rect x="102" y="191" width="3" height="4"/>
<rect x="106" y="188" width="3" height="3"/>
<rect x="110" y="170" width="3" height="20"/>
<rect x="114" y="169" width="3" height="3"/>
<rect x="118" y="136" width="3" height="33"/>
<rect x="137" y="152" width="3" height="28"/>
<rect x="141" y="142" width="3" height="16"/>
<rect x="149" y="148" width="3" height="3"/>
<rect x="153" y="140" width="3" height="8"/>
<rect x="157" y="137" width="3" height="4"/>
<rect x="160" y="135" width="3" height="3"/>
<rect x="168" y="132" width="3" height="4"/>
<rect x="184" y="139" width="3" height="10"/>
<rect x="188" y="137" width="3" height="3"/>
<rect x="203" y="154" width="3" height="11"/>
<rect x="207" y="154" width="3" height="3"/>
<rect x="219" y="159" width="3" height="3"/>
<rect x="227" y="167" width="3" height="12"/>
<rect x="234" y="171" width="3" height="8"/>
<rect x="238" y="152" width="3" height="19"/>
<rect x="262" y="244" width="3" height="14"/>
<rect x="266" y="233" width="3" height="11"/>
<rect x="273" y="240" width="3" height="3"/>
<rect x="281" y="240" width="3" height="3"/>
<rect x="289" y="242" width="3" height="10"/>
<rect x="293" y="240" width="3" height="3"/>
<rect x="297" y="236" width="3" height="5"/>
<rect x="301" y="223" width="3" height="13"/>
<rect x="305" y="221" width="3" height="3"/>
<rect x="316" y="245" width="3" height="4"/>
<rect x="320" y="236" width="3" height="9"/>
<rect x="336" y="247" width="3" height="11"/>
<rect x="347" y="267" width="3" height="3"/>
<rect x="351" y="263" width="3" height="5"/>
<rect x="363" y="265" width="3" height="3"/>
<rect x="367" y="260" width="3" height="6"/>
<rect x="371" y="259" width="3" height="3"/>
<rect x="375" y="244" width="3" height="16"/>
<rect x="379" y="222" width="3" height="23"/>
<rect x="390" y="231" width="3" height="3"/>
<rect x="398" y="222" width="3" height="22"/>
<rect x="402" y="213" width="3" height="9"/>
<rect x="406" y="204" width="3" height="10"/>
<rect x="410" y="190" width="3" height="15"/>
<rect x="417" y="198" width="3" height="3"/>
<rect x="445" y="220" width="3" height="7"/>
<rect x="456" y="212" width="3" height="24"/>
<rect x="464" y="211" width="3" height="6"/>
<rect x="468" y="203" width="3" height="8"/>
<rect x="488" y="230" width="3" height="12"/>
<rect x="495" y="233" width="3" height="4"/>
<rect x="499" y="219" width="3" height="15"/>
<rect x="519" y="223" width="3" height="18"/>
<rect x="530" y="220" width="3" height="9"/>
<rect x="534" y="213" width="3" height="7"/>
<rect x="538" y="203" width="3" height="10"/>
<rect x="546" y="199" width="3" height="7"/>
<rect x="554" y="193" width="3" height="11"/>
<rect x="562" y="180" width="3" height="14"/>
<rect x="565" y="172" width="3" height="10"/>
<rect x="569" y="168" width="3" height="4"/>
<rect x="573" y="166" width="3" height="3"/>
<rect x="577" y="160" width="3" height="6"/>
<rect x="581" y="137" width="3" height="19"/>
<rect x="585" y="123" width="3" height="14"/>
<rect x="589" y="120" width="3" height="3"/>
<rect x="612" y="159" width="3" height="6"/>
<rect x="616" y="143" width="3" height="15"/>
<rect x="620" y="141" width="3" height="3"/>
<rect x="624" y="134" width="3" height="8"/>
<rect x="628" y="125" width="3" height="9"/>
<rect x="643" y="147" width="3" height="3"/>
<rect x="655" y="157" width="3" height="5"/>
<rect x="659" y="158" width="3" height="3"/>
<rect x="663" y="140" width="3" height="18"/>
<rect x="667" y="137" width="3" height="3"/>
<rect x="674" y="140" width="3" height="3"/>
<rect x="682" y="131" width="3" height="11"/>
<rect x="698" y="156" width="3" height="3"/>
<rect x="706" y="156" width="3" height="7"/>
<rect x="717" y="177" width="3" height="5"/>
<rect x="725" y="184" width="3" height="3"/>
<rect x="729" y="148" width="3" height="19"/>
<rect x="733" y="128" width="3" height="21"/>
<rect x="741" y="144" width="3" height="28"/>
<rect x="752" y="160" width="3" height="5"/>
<rect x="756" y="160" width="3" height="3"/>
<rect x="760" y="149" width="3" height="11"/>
<rect x="772" y="190" width="3" height="3"/>
<rect x="791" y="204" width="3" height="5"/>
<rect x="795" y="200" width="3" height="5"/>
<rect x="799" y="188" width="3" height="12"/>
<rect x="807" y="175" width="3" height="14"/>
<rect x="815" y="135" width="3" height="6"/>
<rect x="826" y="145" width="3" height="15"/>
<rect x="838" y="146" width="3" height="12"/>
<rect x="842" y="139" width="3" height="7"/>
<rect x="846" y="139" width="3" height="3"/>
<rect x="854" y="133" width="3" height="11"/>
<rect x="857" y="124" width="3" height="10"/>
<rect x="861" y="109" width="3" height="8"/>
<rect x="865" y="100" width="3" height="9"/>
<rect x="873" y="95" width="3" height="6"/>
<rect x="877" y="66" width="3" height="29"/>
<rect x="881" y="65" width="3" height="3"/>
<rect x="885" y="40" width="3" height="26"/>
<rect x="889" y="33" width="3" height="8"/>
<rect x="893" y="26" width="3" height="7"/>
<rect x="904" y="30" width="3" height="3"/>
<rect x="908" y="25" width="3" height="6"/>
<rect x="912" y="23" width="3" height="10"/>
<rect x="916" y="7" width="3" height="12"/>
<rect x="924" y="13" width="3" height="6"/>
<rect x="939" y="40" width="3" height="15"/>
<rect x="955" y="86" width="3" height="16"/>
<rect x="963" y="73" width="3" height="20"/>
<rect x="967" y="67" width="3" height="4"/>
<rect x="974" y="69" width="3" height="8"/>
<rect x="978" y="55" width="3" height="15"/>
<rect x="982" y="48" width="3" height="8"/>
<rect x="986" y="48" width="3" height="3"/>
<rect x="1017" y="94" width="3" height="3"/>
<rect x="1025" y="79" width="3" height="22"/>
<rect x="1029" y="66" width="3" height="14"/>
<rect x="1033" y="59" width="3" height="6"/>
<rect x="1037" y="57" width="3" height="3"/>
<rect x="1048" y="71" width="3" height="6"/>
<rect x="1064" y="99" width="3" height="3"/>
<rect x="1076" y="102" width="3" height="3"/>
<rect x="1083" y="86" width="3" height="20"/>
<rect x="1087" y="88" width="3" height="3"/>
<rect x="1099" y="74" width="3" height="18"/>
<rect x="1114" y="89" width="3" height="3"/>
<rect x="1118" y="80" width="3" height="9"/>
<rect x="1130" y="85" width="3" height="5"/>
<rect x="1134" y="69" width="3" height="17"/>
<rect x="1146" y="87" width="3" height="4"/>
<rect x="1161" y="93" width="3" height="3"/>
<rect x="1165" y="84" width="3" height="9"/>
<rect x="1181" y="116" width="3" height="10"/>
<rect x="1192" y="129" width="3" height="7"/>
<rect x="1208" y="145" width="3" height="9"/>
</g>
<g fill="#bc2a09" shape-rendering="crispEdges">
<rect x="12" y="334" width="3" height="3"/>
<rect x="16" y="335" width="3" height="3"/>
<rect x="24" y="336" width="3" height="3"/>
<rect x="28" y="337" width="3" height="3"/>
<rect x="32" y="338" width="3" height="12"/>
<rect x="48" y="336" width="3" height="7"/>
<rect x="59" y="338" width="3" height="3"/>
<rect x="67" y="339" width="3" height="3"/>
<rect x="79" y="310" width="3" height="3"/>
<rect x="122" y="136" width="3" height="5"/>
<rect x="125" y="141" width="3" height="9"/>
<rect x="129" y="158" width="3" height="12"/>
<rect x="133" y="170" width="3" height="6"/>
<rect x="145" y="142" width="3" height="7"/>
<rect x="164" y="135" width="3" height="3"/>
<rect x="172" y="132" width="3" height="3"/>
<rect x="176" y="134" width="3" height="8"/>
<rect x="180" y="141" width="3" height="4"/>
<rect x="192" y="137" width="3" height="6"/>
<rect x="196" y="143" width="3" height="20"/>
<rect x="199" y="163" width="3" height="3"/>
<rect x="211" y="154" width="3" height="4"/>
<rect x="215" y="158" width="3" height="3"/>
<rect x="223" y="159" width="3" height="20"/>
<rect x="231" y="167" width="3" height="12"/>
<rect x="242" y="152" width="3" height="25"/>
<rect x="246" y="177" width="3" height="25"/>
<rect x="250" y="225" width="3" height="25"/>
<rect x="254" y="246" width="3" height="8"/>
<rect x="258" y="253" width="3" height="5"/>
<rect x="269" y="233" width="3" height="10"/>
<rect x="277" y="240" width="3" height="3"/>
<rect x="285" y="240" width="3" height="12"/>
<rect x="308" y="221" width="3" height="20"/>
<rect x="312" y="241" width="3" height="6"/>
<rect x="324" y="236" width="3" height="7"/>
<rect x="328" y="243" width="3" height="11"/>
<rect x="332" y="253" width="3" height="5"/>
<rect x="340" y="247" width="3" height="7"/>
<rect x="343" y="256" width="3" height="13"/>
<rect x="355" y="263" width="3" height="3"/>
<rect x="359" y="263" width="3" height="4"/>
<rect x="382" y="224" width="3" height="10"/>
<rect x="386" y="233" width="3" height="3"/>
<rect x="394" y="232" width="3" height="11"/>
<rect x="414" y="190" width="3" height="9"/>
<rect x="421" y="198" width="3" height="11"/>
<rect x="425" y="208" width="3" height="9"/>
<rect x="429" y="217" width="3" height="3"/>
<rect x="433" y="218" width="3" height="3"/>
<rect x="437" y="203" width="3" height="20"/>
<rect x="441" y="223" width="3" height="4"/>
<rect x="449" y="220" width="3" height="15"/>
<rect x="453" y="234" width="3" height="3"/>
<rect x="460" y="213" width="3" height="4"/>
<rect x="472" y="202" width="3" height="3"/>
<rect x="476" y="203" width="3" height="14"/>
<rect x="480" y="228" width="3" height="9"/>
<rect x="484" y="237" width="3" height="5"/>
<rect x="491" y="230" width="3" height="7"/>
<rect x="503" y="219" width="3" height="3"/>
<rect x="507" y="222" width="3" height="14"/>
<rect x="511" y="235" width="3" height="3"/>
<rect x="515" y="236" width="3" height="4"/>
<rect x="523" y="223" width="3" height="4"/>
<rect x="526" y="227" width="3" height="3"/>
<rect x="542" y="203" width="3" height="3"/>
<rect x="550" y="199" width="3" height="5"/>
<rect x="558" y="193" width="3" height="3"/>
<rect x="593" y="121" width="3" height="22"/>
<rect x="597" y="143" width="3" height="15"/>
<rect x="600" y="158" width="3" height="3"/>
<rect x="608" y="161" width="3" height="4"/>
<rect x="632" y="125" width="3" height="3"/>
<rect x="636" y="127" width="3" height="15"/>
<rect x="639" y="141" width="3" height="9"/>
<rect x="647" y="147" width="3" height="3"/>
<rect x="651" y="149" width="3" height="13"/>
<rect x="671" y="132" width="3" height="8"/>
<rect x="678" y="140" width="3" height="3"/>
<rect x="686" y="131" width="3" height="4"/>
<rect x="690" y="135" width="3" height="18"/>
<rect x="694" y="152" width="3" height="6"/>
<rect x="702" y="156" width="3" height="7"/>
<rect x="710" y="156" width="3" height="7"/>
<rect x="713" y="162" width="3" height="20"/>
<rect x="721" y="177" width="3" height="10"/>
<rect x="737" y="128" width="3" height="44"/>
<rect x="745" y="144" width="3" height="6"/>
<rect x="748" y="149" width="3" height="16"/>
<rect x="764" y="149" width="3" height="12"/>
<rect x="768" y="160" width="3" height="31"/>
<rect x="776" y="190" width="3" height="4"/>
<rect x="780" y="194" width="3" height="8"/>
<rect x="783" y="201" width="3" height="5"/>
<rect x="787" y="205" width="3" height="4"/>
<rect x="803" y="187" width="3" height="3"/>
<rect x="811" y="132" width="3" height="7"/>
<rect x="819" y="136" width="3" height="6"/>
<rect x="822" y="142" width="3" height="18"/>
<rect x="830" y="145" width="3" height="7"/>
<rect x="834" y="152" width="3" height="6"/>
<rect x="850" y="139" width="3" height="5"/>
<rect x="869" y="96" width="3" height="5"/>
<rect x="896" y="26" width="3" height="3"/>
<rect x="900" y="28" width="3" height="3"/>
<rect x="920" y="6" width="3" height="13"/>
<rect x="928" y="13" width="3" height="6"/>
<rect x="931" y="18" width="3" height="16"/>
<rect x="935" y="33" width="3" height="19"/>
<rect x="943" y="35" width="3" height="13"/>
<rect x="947" y="47" width="3" height="28"/>
<rect x="951" y="73" width="3" height="29"/>
<rect x="959" y="86" width="3" height="7"/>
<rect x="970" y="67" width="3" height="10"/>
<rect x="990" y="48" width="3" height="3"/>
<rect x="994" y="48" width="3" height="3"/>
<rect x="998" y="49" width="3" height="3"/>
<rect x="1002" y="50" width="3" height="9"/>
<rect x="1005" y="59" width="3" height="14"/>
<rect x="1009" y="72" width="3" height="12"/>
<rect x="1013" y="83" width="3" height="12"/>
<rect x="1021" y="94" width="3" height="7"/>
<rect x="1040" y="57" width="3" height="3"/>
<rect x="1044" y="59" width="3" height="19"/>
<rect x="1052" y="70" width="3" height="10"/>
<rect x="1056" y="80" width="3" height="5"/>
<rect x="1060" y="85" width="3" height="15"/>
<rect x="1068" y="99" width="3" height="4"/>
<rect x="1072" y="103" width="3" height="3"/>
<rect x="1079" y="100" width="3" height="6"/>
<rect x="1091" y="88" width="3" height="3"/>
<rect x="1095" y="91" width="3" height="3"/>
<rect x="1103" y="74" width="3" height="3"/>
<rect x="1107" y="75" width="3" height="3"/>
<rect x="1111" y="69" width="3" height="22"/>
<rect x="1122" y="84" width="3" height="3"/>
<rect x="1126" y="85" width="3" height="5"/>
<rect x="1138" y="69" width="3" height="9"/>
<rect x="1142" y="77" width="3" height="14"/>
<rect x="1150" y="87" width="3" height="5"/>
<rect x="1153" y="91" width="3" height="4"/>
<rect x="1157" y="95" width="3" height="3"/>
<rect x="1169" y="91" width="3" height="12"/>
<rect x="1173" y="104" width="3" height="10"/>
<rect x="1177" y="115" width="3" height="11"/>
<rect x="1185" y="115" width="3" height="3"/>
<rect x="1188" y="115" width="3" height="13"/>
<rect x="1196" y="129" width="3" height="5"/>
<rect x="1200" y="134" width="3" height="14"/>
<rect x="1204" y="148" width="3" height="6"/>
<rect x="1212" y="143" width="3" height="12"/>
<rect x="1216" y="155" width="3" height="15"/>
<rect x="1220" y="170" width="3" height="10"/>
</g>
</g>
<g stroke="#1c1c1c" stroke-width="1.05" stroke-dasharray="7 4" fill="none">
<line x1="141.9" y1="127.4" x2="554.4" y2="223.5"/>
<line x1="29" y1="350.6" x2="565.6" y2="226.25"/>
<line x1="574" y1="115.6" x2="875" y2="134.6"/>
<line x1="594" y1="160.25" x2="843" y2="222.5"/>
<line x1="964" y1="46.5" x2="1210" y2="77.5"/>
<line x1="843" y1="97.5" x2="1211" y2="112.75"/>
</g>
<defs><clipPath id="up"><rect x="0" y="414" width="1279" height="51"/></clipPath><clipPath id="dn"><rect x="0" y="465" width="1279" height="47"/></clipPath></defs>
<line x1="0" y1="465.5" x2="1280" y2="465.5" stroke="#e0d1bb" stroke-width="1" shape-rendering="crispEdges"/>
<path d="M0.0,465 L0.0,431.9 L4.0,430.9 L9.0,425.0 L11.0,425.0 L15.0,427.0 L17.9,428.4 L20.9,428.0 L25.9,432.9 L31.9,438.9 L39.9,443.9 L49.8,445.9 L59.8,446.3 L66.8,447.9 L68.8,448.9 L71.8,441.9 L75.8,428.0 L79.8,430.9 L85.7,413.0 L88.7,404.0 L105.7,400.0 L123.6,404.0 L126.6,413.0 L130.6,429.9 L134.6,434.9 L139.6,428.0 L142.0,426.0 L146.6,430.9 L150.5,430.3 L155.5,428.0 L161.5,426.6 L166.5,427.2 L170.5,426.4 L173.5,428.9 L177.5,434.9 L181.5,439.9 L184.4,437.9 L188.4,436.3 L192.4,441.9 L194.4,449.9 L197.4,459.9 L200.4,461.3 L204.4,454.5 L208.4,454.5 L212.4,457.9 L217.3,459.3 L220.3,458.9 L224.3,475.8 L228.3,465.8 L232.3,473.4 L236.3,467.8 L239.3,454.9 L242.3,463.8 L247.3,479.8 L251.6,495.7 L255.2,496.7 L259.2,497.7 L260.0,495.7 L263.0,489.8 L267.0,484.2 L271.0,486.8 L275.0,485.4 L278.9,485.4 L282.9,484.8 L286.9,489.4 L290.9,482.8 L293.9,481.8 L297.9,478.8 L301.9,469.8 L306.3,468.8 L309.8,478.8 L313.8,481.8 L317.8,480.4 L321.8,473.8 L325.8,477.8 L329.8,482.2 L333.4,484.2 L337.4,476.4 L341.4,480.4 L345.3,486.8 L348.7,486.2 L352.7,482.4 L356.7,482.2 L360.7,484.2 L364.7,483.2 L368.7,478.8 L372.1,477.8 L374.7,469.8 L380.0,448.9 L384.0,458.3 L388.0,458.3 L391.6,456.9 L395.6,465.8 L399.6,452.9 L403.6,447.9 L407.6,442.9 L411.1,437.3 L415.1,443.5 L418.9,443.9 L422.9,452.9 L426.9,459.1 L430.9,459.5 L434.9,460.9 L438.9,463.8 L442.4,467.2 L446.4,461.8 L450.4,471.8 L454.4,472.2 L457.8,455.5 L461.8,459.5 L465.8,455.5 L469.4,450.9 L473.8,451.5 L477.3,462.8 L481.3,474.8 L485.3,477.8 L489.3,469.8 L492.9,473.4 L496.9,470.2 L500.9,461.5 L504.9,463.4 L508.8,471.8 L512.8,472.2 L516.2,474.8 L520.2,462.4 L524.0,464.8 L528.0,466.2 L532.0,459.9 L536.0,454.9 L539.5,449.3 L543.5,451.3 L547.5,447.9 L551.5,451.5 L555.5,445.3 L559.1,446.3 L562.9,438.9 L566.9,434.9 L570.8,432.9 L574.8,431.5 L578.4,429.5 L582.4,421.0 L586.4,416.4 L590.2,415.6 L594.2,437.9 L598.2,450.9 L601.8,451.5 L605.7,454.3 L609.7,456.3 L613.7,452.9 L617.7,443.9 L621.3,442.9 L625.3,439.3 L629.3,435.5 L633.3,436.9 L637.2,449.9 L641.0,457.5 L645.0,455.9 L649.0,457.9 L652.6,467.4 L656.6,463.8 L660.6,464.8 L664.6,452.3 L668.2,450.9 L672.1,452.3 L676.1,452.9 L679.5,453.9 L683.5,447.3 L687.5,450.5 L691.5,467.4 L695.5,470.8 L699.5,469.8 L703.4,474.8 L707.0,468.4 L711.0,473.8 L715.0,485.2 L718.8,481.4 L722.8,486.4 L726.8,484.2 L730.4,458.9 L734.4,447.9 L738.3,470.8 L742.3,459.5 L745.9,461.8 L749.9,468.2 L753.9,466.2 L757.9,465.8 L761.7,461.3 L765.3,466.2 L769.2,478.8 L773.2,478.4 L777.2,480.4 L780.0,481.8 L784.4,483.8 L788.6,485.4 L792.4,482.8 L796.4,479.8 L800.3,471.8 L804.3,471.4 L807.9,464.8 L811.9,445.9 L815.9,444.3 L819.9,448.9 L823.9,459.9 L827.5,453.5 L831.4,456.9 L835.4,460.5 L839.4,454.9 L843.4,451.9 L847.4,451.5 L851.2,454.9 L855.2,449.9 L859.2,445.5 L862.7,439.9 L866.7,435.9 L870.7,436.3 L874.3,433.9 L878.3,425.0 L882.3,424.4 L886.3,418.4 L890.3,416.4 L894.1,415.0 L898.0,417.6 L902.0,420.4 L906.0,420.0 L909.6,418.6 L913.6,418.0 L917.4,413.6 L921.4,427.0 L925.2,425.6 L929.1,431.3 L933.1,445.9 L936.9,458.9 L940.9,452.9 L944.9,458.3 L948.5,471.8 L952.5,482.8 L956.5,475.4 L960.5,477.4 L964.0,468.2 L968.0,465.2 L972.0,469.4 L976.0,465.8 L980.0,459.3 L983.8,455.5 L987.8,455.3 L991.8,455.9 L995.7,456.5 L999.3,456.9 L1003.3,462.8 L1007.3,470.8 L1011.3,477.4 L1015.3,482.4 L1018.9,482.8 L1022.7,485.4 L1026.7,469.8 L1030.6,461.8 L1034.6,458.3 L1038.2,457.3 L1040.0,457.9 L1042.4,458.9 L1046.0,470.4 L1049.6,466.2 L1053.6,471.4 L1057.9,474.8 L1061.5,481.4 L1065.5,481.8 L1069.5,483.4 L1073.5,483.8 L1077.3,482.4 L1081.1,484.2 L1084.9,467.8 L1088.9,469.2 L1092.8,471.2 L1096.8,472.8 L1100.4,458.3 L1104.4,459.3 L1108.4,459.9 L1112.2,470.4 L1116.2,469.4 L1119.8,463.2 L1123.7,466.8 L1127.7,469.8 L1131.7,465.8 L1135.3,453.5 L1139.3,460.9 L1143.1,470.4 L1147.1,468.2 L1151.1,470.8 L1155.1,473.4 L1159.0,475.4 L1162.6,470.8 L1166.6,463.4 L1170.6,476.4 L1174.6,482.8 L1178.6,488.2 L1182.0,480.4 L1186.6,480.4 L1189.9,486.2 L1193.9,487.4 L1197.9,489.8 L1201.9,494.7 L1205.5,497.7 L1209.5,490.2 L1213.5,493.8 L1217.1,499.1 L1220.9,502.3 L1220.9,465 Z" fill="#20b2aa" fill-opacity="0.28" clip-path="url(#up)"/>
<path d="M0.0,465 L0.0,431.9 L4.0,430.9 L9.0,425.0 L11.0,425.0 L15.0,427.0 L17.9,428.4 L20.9,428.0 L25.9,432.9 L31.9,438.9 L39.9,443.9 L49.8,445.9 L59.8,446.3 L66.8,447.9 L68.8,448.9 L71.8,441.9 L75.8,428.0 L79.8,430.9 L85.7,413.0 L88.7,404.0 L105.7,400.0 L123.6,404.0 L126.6,413.0 L130.6,429.9 L134.6,434.9 L139.6,428.0 L142.0,426.0 L146.6,430.9 L150.5,430.3 L155.5,428.0 L161.5,426.6 L166.5,427.2 L170.5,426.4 L173.5,428.9 L177.5,434.9 L181.5,439.9 L184.4,437.9 L188.4,436.3 L192.4,441.9 L194.4,449.9 L197.4,459.9 L200.4,461.3 L204.4,454.5 L208.4,454.5 L212.4,457.9 L217.3,459.3 L220.3,458.9 L224.3,475.8 L228.3,465.8 L232.3,473.4 L236.3,467.8 L239.3,454.9 L242.3,463.8 L247.3,479.8 L251.6,495.7 L255.2,496.7 L259.2,497.7 L260.0,495.7 L263.0,489.8 L267.0,484.2 L271.0,486.8 L275.0,485.4 L278.9,485.4 L282.9,484.8 L286.9,489.4 L290.9,482.8 L293.9,481.8 L297.9,478.8 L301.9,469.8 L306.3,468.8 L309.8,478.8 L313.8,481.8 L317.8,480.4 L321.8,473.8 L325.8,477.8 L329.8,482.2 L333.4,484.2 L337.4,476.4 L341.4,480.4 L345.3,486.8 L348.7,486.2 L352.7,482.4 L356.7,482.2 L360.7,484.2 L364.7,483.2 L368.7,478.8 L372.1,477.8 L374.7,469.8 L380.0,448.9 L384.0,458.3 L388.0,458.3 L391.6,456.9 L395.6,465.8 L399.6,452.9 L403.6,447.9 L407.6,442.9 L411.1,437.3 L415.1,443.5 L418.9,443.9 L422.9,452.9 L426.9,459.1 L430.9,459.5 L434.9,460.9 L438.9,463.8 L442.4,467.2 L446.4,461.8 L450.4,471.8 L454.4,472.2 L457.8,455.5 L461.8,459.5 L465.8,455.5 L469.4,450.9 L473.8,451.5 L477.3,462.8 L481.3,474.8 L485.3,477.8 L489.3,469.8 L492.9,473.4 L496.9,470.2 L500.9,461.5 L504.9,463.4 L508.8,471.8 L512.8,472.2 L516.2,474.8 L520.2,462.4 L524.0,464.8 L528.0,466.2 L532.0,459.9 L536.0,454.9 L539.5,449.3 L543.5,451.3 L547.5,447.9 L551.5,451.5 L555.5,445.3 L559.1,446.3 L562.9,438.9 L566.9,434.9 L570.8,432.9 L574.8,431.5 L578.4,429.5 L582.4,421.0 L586.4,416.4 L590.2,415.6 L594.2,437.9 L598.2,450.9 L601.8,451.5 L605.7,454.3 L609.7,456.3 L613.7,452.9 L617.7,443.9 L621.3,442.9 L625.3,439.3 L629.3,435.5 L633.3,436.9 L637.2,449.9 L641.0,457.5 L645.0,455.9 L649.0,457.9 L652.6,467.4 L656.6,463.8 L660.6,464.8 L664.6,452.3 L668.2,450.9 L672.1,452.3 L676.1,452.9 L679.5,453.9 L683.5,447.3 L687.5,450.5 L691.5,467.4 L695.5,470.8 L699.5,469.8 L703.4,474.8 L707.0,468.4 L711.0,473.8 L715.0,485.2 L718.8,481.4 L722.8,486.4 L726.8,484.2 L730.4,458.9 L734.4,447.9 L738.3,470.8 L742.3,459.5 L745.9,461.8 L749.9,468.2 L753.9,466.2 L757.9,465.8 L761.7,461.3 L765.3,466.2 L769.2,478.8 L773.2,478.4 L777.2,480.4 L780.0,481.8 L784.4,483.8 L788.6,485.4 L792.4,482.8 L796.4,479.8 L800.3,471.8 L804.3,471.4 L807.9,464.8 L811.9,445.9 L815.9,444.3 L819.9,448.9 L823.9,459.9 L827.5,453.5 L831.4,456.9 L835.4,460.5 L839.4,454.9 L843.4,451.9 L847.4,451.5 L851.2,454.9 L855.2,449.9 L859.2,445.5 L862.7,439.9 L866.7,435.9 L870.7,436.3 L874.3,433.9 L878.3,425.0 L882.3,424.4 L886.3,418.4 L890.3,416.4 L894.1,415.0 L898.0,417.6 L902.0,420.4 L906.0,420.0 L909.6,418.6 L913.6,418.0 L917.4,413.6 L921.4,427.0 L925.2,425.6 L929.1,431.3 L933.1,445.9 L936.9,458.9 L940.9,452.9 L944.9,458.3 L948.5,471.8 L952.5,482.8 L956.5,475.4 L960.5,477.4 L964.0,468.2 L968.0,465.2 L972.0,469.4 L976.0,465.8 L980.0,459.3 L983.8,455.5 L987.8,455.3 L991.8,455.9 L995.7,456.5 L999.3,456.9 L1003.3,462.8 L1007.3,470.8 L1011.3,477.4 L1015.3,482.4 L1018.9,482.8 L1022.7,485.4 L1026.7,469.8 L1030.6,461.8 L1034.6,458.3 L1038.2,457.3 L1040.0,457.9 L1042.4,458.9 L1046.0,470.4 L1049.6,466.2 L1053.6,471.4 L1057.9,474.8 L1061.5,481.4 L1065.5,481.8 L1069.5,483.4 L1073.5,483.8 L1077.3,482.4 L1081.1,484.2 L1084.9,467.8 L1088.9,469.2 L1092.8,471.2 L1096.8,472.8 L1100.4,458.3 L1104.4,459.3 L1108.4,459.9 L1112.2,470.4 L1116.2,469.4 L1119.8,463.2 L1123.7,466.8 L1127.7,469.8 L1131.7,465.8 L1135.3,453.5 L1139.3,460.9 L1143.1,470.4 L1147.1,468.2 L1151.1,470.8 L1155.1,473.4 L1159.0,475.4 L1162.6,470.8 L1166.6,463.4 L1170.6,476.4 L1174.6,482.8 L1178.6,488.2 L1182.0,480.4 L1186.6,480.4 L1189.9,486.2 L1193.9,487.4 L1197.9,489.8 L1201.9,494.7 L1205.5,497.7 L1209.5,490.2 L1213.5,493.8 L1217.1,499.1 L1220.9,502.3 L1220.9,465 Z" fill="#fb5b13" fill-opacity="0.28" clip-path="url(#dn)"/>
<line x1="5" y1="497" x2="1277" y2="497" stroke="#ff6e6e" stroke-width="1.5" stroke-dasharray="6 5"/>
<path d="M0.0,431.9 L4.0,430.9 L9.0,425.0 L11.0,425.0 L15.0,427.0 L17.9,428.4 L20.9,428.0 L25.9,432.9 L31.9,438.9 L39.9,443.9 L49.8,445.9 L59.8,446.3 L66.8,447.9 L68.8,448.9 L71.8,441.9 L75.8,428.0 L79.8,430.9 L85.7,413.0 L88.7,404.0 L105.7,400.0 L123.6,404.0 L126.6,413.0 L130.6,429.9 L134.6,434.9 L139.6,428.0 L142.0,426.0 L146.6,430.9 L150.5,430.3 L155.5,428.0 L161.5,426.6 L166.5,427.2 L170.5,426.4 L173.5,428.9 L177.5,434.9 L181.5,439.9 L184.4,437.9 L188.4,436.3 L192.4,441.9 L194.4,449.9 L197.4,459.9 L200.4,461.3 L204.4,454.5 L208.4,454.5 L212.4,457.9 L217.3,459.3 L220.3,458.9 L224.3,475.8 L228.3,465.8 L232.3,473.4 L236.3,467.8 L239.3,454.9 L242.3,463.8 L247.3,479.8 L251.6,495.7 L255.2,496.7 L259.2,497.7 L260.0,495.7 L263.0,489.8 L267.0,484.2 L271.0,486.8 L275.0,485.4 L278.9,485.4 L282.9,484.8 L286.9,489.4 L290.9,482.8 L293.9,481.8 L297.9,478.8 L301.9,469.8 L306.3,468.8 L309.8,478.8 L313.8,481.8 L317.8,480.4 L321.8,473.8 L325.8,477.8 L329.8,482.2 L333.4,484.2 L337.4,476.4 L341.4,480.4 L345.3,486.8 L348.7,486.2 L352.7,482.4 L356.7,482.2 L360.7,484.2 L364.7,483.2 L368.7,478.8 L372.1,477.8 L374.7,469.8 L380.0,448.9 L384.0,458.3 L388.0,458.3 L391.6,456.9 L395.6,465.8 L399.6,452.9 L403.6,447.9 L407.6,442.9 L411.1,437.3 L415.1,443.5 L418.9,443.9 L422.9,452.9 L426.9,459.1 L430.9,459.5 L434.9,460.9 L438.9,463.8 L442.4,467.2 L446.4,461.8 L450.4,471.8 L454.4,472.2 L457.8,455.5 L461.8,459.5 L465.8,455.5 L469.4,450.9 L473.8,451.5 L477.3,462.8 L481.3,474.8 L485.3,477.8 L489.3,469.8 L492.9,473.4 L496.9,470.2 L500.9,461.5 L504.9,463.4 L508.8,471.8 L512.8,472.2 L516.2,474.8 L520.2,462.4 L524.0,464.8 L528.0,466.2 L532.0,459.9 L536.0,454.9 L539.5,449.3 L543.5,451.3 L547.5,447.9 L551.5,451.5 L555.5,445.3 L559.1,446.3 L562.9,438.9 L566.9,434.9 L570.8,432.9 L574.8,431.5 L578.4,429.5 L582.4,421.0 L586.4,416.4 L590.2,415.6 L594.2,437.9 L598.2,450.9 L601.8,451.5 L605.7,454.3 L609.7,456.3 L613.7,452.9 L617.7,443.9 L621.3,442.9 L625.3,439.3 L629.3,435.5 L633.3,436.9 L637.2,449.9 L641.0,457.5 L645.0,455.9 L649.0,457.9 L652.6,467.4 L656.6,463.8 L660.6,464.8 L664.6,452.3 L668.2,450.9 L672.1,452.3 L676.1,452.9 L679.5,453.9 L683.5,447.3 L687.5,450.5 L691.5,467.4 L695.5,470.8 L699.5,469.8 L703.4,474.8 L707.0,468.4 L711.0,473.8 L715.0,485.2 L718.8,481.4 L722.8,486.4 L726.8,484.2 L730.4,458.9 L734.4,447.9 L738.3,470.8 L742.3,459.5 L745.9,461.8 L749.9,468.2 L753.9,466.2 L757.9,465.8 L761.7,461.3 L765.3,466.2 L769.2,478.8 L773.2,478.4 L777.2,480.4 L780.0,481.8 L784.4,483.8 L788.6,485.4 L792.4,482.8 L796.4,479.8 L800.3,471.8 L804.3,471.4 L807.9,464.8 L811.9,445.9 L815.9,444.3 L819.9,448.9 L823.9,459.9 L827.5,453.5 L831.4,456.9 L835.4,460.5 L839.4,454.9 L843.4,451.9 L847.4,451.5 L851.2,454.9 L855.2,449.9 L859.2,445.5 L862.7,439.9 L866.7,435.9 L870.7,436.3 L874.3,433.9 L878.3,425.0 L882.3,424.4 L886.3,418.4 L890.3,416.4 L894.1,415.0 L898.0,417.6 L902.0,420.4 L906.0,420.0 L909.6,418.6 L913.6,418.0 L917.4,413.6 L921.4,427.0 L925.2,425.6 L929.1,431.3 L933.1,445.9 L936.9,458.9 L940.9,452.9 L944.9,458.3 L948.5,471.8 L952.5,482.8 L956.5,475.4 L960.5,477.4 L964.0,468.2 L968.0,465.2 L972.0,469.4 L976.0,465.8 L980.0,459.3 L983.8,455.5 L987.8,455.3 L991.8,455.9 L995.7,456.5 L999.3,456.9 L1003.3,462.8 L1007.3,470.8 L1011.3,477.4 L1015.3,482.4 L1018.9,482.8 L1022.7,485.4 L1026.7,469.8 L1030.6,461.8 L1034.6,458.3 L1038.2,457.3 L1040.0,457.9 L1042.4,458.9 L1046.0,470.4 L1049.6,466.2 L1053.6,471.4 L1057.9,474.8 L1061.5,481.4 L1065.5,481.8 L1069.5,483.4 L1073.5,483.8 L1077.3,482.4 L1081.1,484.2 L1084.9,467.8 L1088.9,469.2 L1092.8,471.2 L1096.8,472.8 L1100.4,458.3 L1104.4,459.3 L1108.4,459.9 L1112.2,470.4 L1116.2,469.4 L1119.8,463.2 L1123.7,466.8 L1127.7,469.8 L1131.7,465.8 L1135.3,453.5 L1139.3,460.9 L1143.1,470.4 L1147.1,468.2 L1151.1,470.8 L1155.1,473.4 L1159.0,475.4 L1162.6,470.8 L1166.6,463.4 L1170.6,476.4 L1174.6,482.8 L1178.6,488.2 L1182.0,480.4 L1186.6,480.4 L1189.9,486.2 L1193.9,487.4 L1197.9,489.8 L1201.9,494.7 L1205.5,497.7 L1209.5,490.2 L1213.5,493.8 L1217.1,499.1 L1220.9,502.3" fill="none" stroke="#111" stroke-width="1.1" stroke-linejoin="round" clip-path="url(#cr)"/>
<path d="M1271,104.3 L1279.5,96.3 L1312.0,96.3 Q1315.0,96.3 1315.0,99.3 L1315.0,109.3 Q1315.0,112.3 1312.0,112.3 L1279.5,112.3 Z" fill="#1aa79c"/>
<text x="1285.3" y="108.39999999999999" font-size="10" letter-spacing="0.45" fill="#fff" stroke="#fff" stroke-width="0.18">9.152</text>
<path d="M1271,180 L1279.5,172 L1336.5,172 Q1339.5,172 1339.5,175 L1339.5,185 Q1339.5,188 1336.5,188 L1279.5,188 Z" fill="#b82c0d"/>
<text x="1285.3" y="184.1" font-size="10" letter-spacing="0.45" fill="#fff" stroke="#fff" stroke-width="0.18">8.247,90</text>
<path d="M1271,502.5 L1279.5,494.5 L1312.0,494.5 Q1315.0,494.5 1315.0,497.5 L1315.0,507.5 Q1315.0,510.5 1312.0,510.5 L1279.5,510.5 Z" fill="#000"/>
<text x="1285.3" y="506.6" font-size="10" letter-spacing="0.45" fill="#fff" stroke="#fff" stroke-width="0.18">24,66</text>
<g stroke="#4f6362" stroke-width="1.1" fill="none"><path d="M93.5,444.8 L93.5,433.2 M88,438.8 L93.5,433.2 L99,438.8"/></g>
<g transform="translate(123,439)" fill="#4f6362"><rect x="-1.3" y="-7.1" width="2.6" height="3.2" transform="rotate(0)"/><rect x="-1.3" y="-7.1" width="2.6" height="3.2" transform="rotate(45)"/><rect x="-1.3" y="-7.1" width="2.6" height="3.2" transform="rotate(90)"/><rect x="-1.3" y="-7.1" width="2.6" height="3.2" transform="rotate(135)"/><rect x="-1.3" y="-7.1" width="2.6" height="3.2" transform="rotate(180)"/><rect x="-1.3" y="-7.1" width="2.6" height="3.2" transform="rotate(225)"/><rect x="-1.3" y="-7.1" width="2.6" height="3.2" transform="rotate(270)"/><rect x="-1.3" y="-7.1" width="2.6" height="3.2" transform="rotate(315)"/><path fill-rule="evenodd" d="M0,-5.3 A5.3,5.3 0 1,0 0,5.3 A5.3,5.3 0 1,0 0,-5.3 Z M0,-2.7 A2.7,2.7 0 1,1 0,2.7 A2.7,2.7 0 1,1 0,-2.7 Z"/></g>
<g stroke="#4f6362" stroke-width="2"><path d="M146.9,434.2 L155.9,443 M155.9,434.2 L146.9,443"/></g>
<defs><clipPath id="zb"><rect x="600" y="374.5" width="90" height="4"/></clipPath></defs><rect x="607" y="350.3" width="70.5" height="25.3" rx="4" fill="#000" fill-opacity="0.10" clip-path="url(#zb)"/>
<rect x="607" y="349" width="70.5" height="25.5" rx="4" fill="#d4d4d4" fill-opacity="0.3"/>
<rect x="618" y="359.5" width="13" height="3.5" fill="#555"/>
<rect x="653" y="359.5" width="13" height="3.5" fill="#555"/><rect x="657.75" y="354.7" width="3.5" height="13" fill="#555"/>
<line x1="643.5" y1="353" x2="643.5" y2="370" stroke="#bbb" stroke-width="1"/>
</svg>
<div class="lbl" style="left:4px;top:12px;width:42px;height:22px;line-height:22px;">LTM</div>
<div class="lbl" style="left:4px;top:428px;width:65px;height:22px;line-height:22px;">RSI (14)</div>
</body></html>
